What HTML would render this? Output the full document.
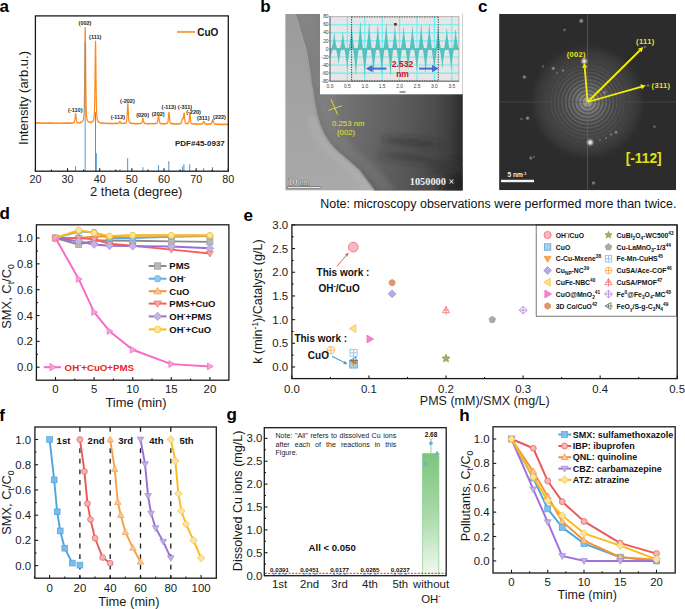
<!DOCTYPE html>
<html><head><meta charset="utf-8"><style>
html,body{margin:0;padding:0;background:#fff;width:685px;height:609px;overflow:hidden}
svg{display:block}
</style></head><body>
<svg width="685" height="609" viewBox="0 0 685 609">
<rect width="685" height="609" fill="#fff"/>
<text x="-0.60" y="12.40" font-size="17" font-weight="bold" fill="#000" font-family="Liberation Sans">a</text>
<text x="260.20" y="12.30" font-size="17" font-weight="bold" fill="#000" font-family="Liberation Sans">b</text>
<text x="478.00" y="12.40" font-size="17" font-weight="bold" fill="#000" font-family="Liberation Sans">c</text>
<text x="-0.50" y="219.30" font-size="17" font-weight="bold" fill="#000" font-family="Liberation Sans">d</text>
<text x="243.40" y="220.70" font-size="17" font-weight="bold" fill="#000" font-family="Liberation Sans">e</text>
<text x="-0.80" y="420.80" font-size="17" font-weight="bold" fill="#000" font-family="Liberation Sans">f</text>
<text x="226.40" y="420.20" font-size="17" font-weight="bold" fill="#000" font-family="Liberation Sans">g</text>
<text x="459.20" y="420.80" font-size="17" font-weight="bold" fill="#000" font-family="Liberation Sans">h</text>
<polyline points="35.40,122.80 35.59,123.02 35.79,122.90 35.98,123.07 36.17,123.08 36.36,122.69 36.56,122.66 36.75,123.23 36.94,122.83 37.14,122.81 37.33,123.35 37.52,122.98 37.71,123.24 37.91,122.99 38.10,123.10 38.29,122.76 38.49,123.10 38.68,123.27 38.87,123.03 39.07,123.18 39.26,123.13 39.45,122.71 39.64,123.20 39.84,123.08 40.03,122.88 40.22,122.69 40.42,123.28 40.61,123.00 40.80,123.18 40.99,123.29 41.19,123.18 41.38,123.32 41.57,122.96 41.77,123.24 41.96,122.99 42.15,123.34 42.34,123.30 42.54,122.75 42.73,122.78 42.92,122.84 43.12,123.37 43.31,123.00 43.50,123.13 43.69,122.90 43.89,123.05 44.08,122.97 44.27,122.94 44.47,123.11 44.66,123.11 44.85,123.33 45.04,123.18 45.24,123.35 45.43,123.30 45.62,123.40 45.82,123.18 46.01,122.82 46.20,123.31 46.40,123.39 46.59,123.35 46.78,123.11 46.97,123.21 47.17,122.86 47.36,123.30 47.55,123.12 47.75,122.92 47.94,122.77 48.13,123.32 48.32,123.42 48.52,122.79 48.71,123.29 48.90,123.01 49.10,122.83 49.29,122.94 49.48,123.27 49.67,123.34 49.87,122.76 50.06,123.16 50.25,122.77 50.45,123.24 50.64,122.97 50.83,123.36 51.02,123.43 51.22,123.09 51.41,123.44 51.60,122.96 51.80,122.80 51.99,123.17 52.18,122.77 52.38,122.89 52.57,123.03 52.76,123.18 52.95,122.86 53.15,122.78 53.34,123.36 53.53,122.97 53.73,123.43 53.92,123.38 54.11,123.02 54.30,123.08 54.50,123.12 54.69,123.21 54.88,123.18 55.08,123.15 55.27,123.20 55.46,123.42 55.65,123.12 55.85,123.07 56.04,123.27 56.23,122.94 56.43,122.98 56.62,123.46 56.81,123.14 57.00,123.16 57.20,122.78 57.39,123.07 57.58,123.18 57.78,122.79 57.97,123.21 58.16,123.22 58.36,122.82 58.55,123.22 58.74,123.11 58.93,123.26 59.13,123.03 59.32,123.28 59.51,123.30 59.71,122.80 59.90,122.83 60.09,123.26 60.28,123.46 60.48,122.96 60.67,123.11 60.86,123.20 61.06,123.01 61.25,123.05 61.44,123.01 61.63,123.05 61.83,123.21 62.02,123.00 62.21,123.06 62.41,123.34 62.60,122.81 62.79,123.19 62.98,123.31 63.18,123.01 63.37,122.95 63.56,123.36 63.76,122.96 63.95,122.93 64.14,123.10 64.33,123.29 64.53,122.87 64.72,123.02 64.91,123.03 65.11,123.38 65.30,123.10 65.49,123.40 65.69,122.92 65.88,123.03 66.07,123.25 66.26,123.42 66.46,123.11 66.65,122.95 66.84,122.88 67.04,123.16 67.23,122.93 67.42,123.36 67.61,123.38 67.81,122.92 68.00,122.98 68.19,123.35 68.39,123.23 68.58,123.35 68.77,123.02 68.96,122.87 69.16,122.98 69.35,123.33 69.54,122.96 69.74,123.01 69.93,123.06 70.12,123.05 70.31,123.04 70.51,123.39 70.70,122.85 70.89,122.74 71.09,123.39 71.28,123.34 71.47,123.40 71.67,123.00 71.86,123.35 72.05,123.32 72.24,122.81 72.44,123.16 72.63,123.20 72.82,123.05 73.02,122.91 73.21,122.71 73.40,122.69 73.59,122.54 73.79,122.34 73.98,122.58 74.17,122.18 74.37,122.21 74.56,121.10 74.75,120.72 74.94,119.05 75.14,117.17 75.33,114.95 75.52,113.50 75.72,113.59 75.91,115.02 76.10,117.75 76.29,119.22 76.49,120.63 76.68,121.70 76.87,122.07 77.07,122.26 77.26,122.78 77.45,122.65 77.65,122.52 77.84,122.51 78.03,122.97 78.22,122.72 78.42,122.95 78.61,122.65 78.80,122.55 79.00,122.78 79.19,122.97 79.38,122.51 79.57,122.92 79.77,122.99 79.96,122.89 80.15,122.87 80.35,122.26 80.54,122.65 80.73,122.76 80.92,122.14 81.12,122.23 81.31,122.15 81.50,122.24 81.70,122.06 81.89,121.96 82.08,122.03 82.27,121.31 82.47,121.13 82.66,120.91 82.85,120.58 83.05,120.12 83.24,120.22 83.43,119.44 83.62,117.93 83.82,116.76 84.01,114.19 84.20,109.71 84.40,101.49 84.59,87.75 84.78,67.41 84.98,43.74 85.17,27.29 85.36,31.08 85.55,51.30 85.75,74.77 85.94,93.15 86.13,104.77 86.33,111.33 86.52,115.03 86.71,117.19 86.90,118.60 87.10,119.59 87.29,119.94 87.48,120.71 87.68,120.96 87.87,121.13 88.06,121.33 88.25,121.61 88.45,121.91 88.64,121.84 88.83,122.14 89.03,122.06 89.22,121.98 89.41,122.24 89.60,122.40 89.80,122.00 89.99,122.27 90.18,122.29 90.38,122.61 90.57,122.65 90.76,122.25 90.96,122.60 91.15,122.49 91.34,122.08 91.53,122.17 91.73,121.87 91.92,122.28 92.11,122.07 92.31,122.11 92.50,121.90 92.69,121.63 92.88,121.45 93.08,121.05 93.27,120.37 93.46,120.25 93.66,119.24 93.85,118.51 94.04,117.71 94.23,115.14 94.43,111.51 94.62,105.01 94.81,94.79 95.01,78.65 95.20,59.66 95.39,44.33 95.58,41.01 95.78,54.14 95.97,72.91 96.16,90.12 96.36,102.60 96.55,110.14 96.74,114.76 96.94,116.72 97.13,118.70 97.32,119.48 97.51,120.30 97.71,120.39 97.90,121.24 98.09,121.69 98.29,121.34 98.48,121.74 98.67,122.08 98.86,122.42 99.06,122.13 99.25,122.20 99.44,122.34 99.64,122.68 99.83,122.84 100.02,122.66 100.21,122.69 100.41,122.76 100.60,122.77 100.79,122.86 100.99,122.66 101.18,122.99 101.37,123.35 101.56,122.98 101.76,123.24 101.95,122.86 102.14,123.25 102.34,123.31 102.53,123.27 102.72,123.18 102.92,123.17 103.11,123.30 103.30,123.49 103.49,122.98 103.69,122.95 103.88,123.42 104.07,123.55 104.27,123.28 104.46,123.24 104.65,123.44 104.84,123.08 105.04,123.14 105.23,123.10 105.42,123.38 105.62,123.20 105.81,123.15 106.00,123.47 106.19,123.66 106.39,123.21 106.58,123.50 106.77,123.30 106.97,123.62 107.16,123.43 107.35,123.22 107.54,123.19 107.74,123.05 107.93,123.38 108.12,123.32 108.32,123.17 108.51,123.31 108.70,123.28 108.89,123.60 109.09,123.17 109.28,123.76 109.47,123.41 109.67,123.50 109.86,123.41 110.05,123.67 110.25,123.66 110.44,123.48 110.63,123.43 110.82,123.60 111.02,123.70 111.21,123.38 111.40,123.62 111.60,123.78 111.79,123.43 111.98,123.27 112.17,123.28 112.37,123.62 112.56,123.59 112.75,123.79 112.95,123.72 113.14,123.29 113.33,123.25 113.52,123.30 113.72,123.26 113.91,123.62 114.10,123.73 114.30,123.76 114.49,123.31 114.68,123.73 114.87,123.35 115.07,123.43 115.26,123.64 115.45,123.19 115.65,123.19 115.84,123.71 116.03,123.33 116.23,123.37 116.42,123.53 116.61,123.59 116.80,123.12 117.00,123.35 117.19,123.41 117.38,123.44 117.58,123.24 117.77,123.49 117.96,123.73 118.15,123.31 118.35,123.38 118.54,123.03 118.73,123.05 118.93,123.17 119.12,122.56 119.31,122.79 119.50,122.42 119.70,121.48 119.89,121.84 120.08,121.49 120.28,122.07 120.47,122.44 120.66,122.48 120.85,123.03 121.05,123.21 121.24,123.44 121.43,123.13 121.63,123.52 121.82,123.69 122.01,123.51 122.21,123.42 122.40,123.13 122.59,123.40 122.78,123.30 122.98,123.55 123.17,123.52 123.36,123.43 123.56,123.15 123.75,123.46 123.94,123.43 124.13,123.10 124.33,123.57 124.52,123.37 124.71,122.96 124.91,123.49 125.10,122.88 125.29,122.94 125.48,123.13 125.68,122.94 125.87,122.77 126.06,122.64 126.26,122.23 126.45,121.68 126.64,120.81 126.83,119.40 127.03,117.66 127.22,114.45 127.41,110.16 127.61,106.14 127.80,103.59 127.99,104.73 128.18,108.60 128.38,113.24 128.57,116.24 128.76,119.10 128.96,120.51 129.15,121.81 129.34,122.06 129.54,122.37 129.73,122.64 129.92,122.89 130.11,123.18 130.31,122.98 130.50,123.40 130.69,122.95 130.89,123.11 131.08,123.04 131.27,123.09 131.46,123.58 131.66,123.57 131.85,123.22 132.04,123.24 132.24,123.42 132.43,123.67 132.62,123.73 132.81,123.70 133.01,123.60 133.20,123.30 133.39,123.48 133.59,123.35 133.78,123.59 133.97,123.63 134.16,123.38 134.36,123.42 134.55,123.79 134.74,123.27 134.94,123.82 135.13,123.88 135.32,123.93 135.52,123.54 135.71,123.66 135.90,123.68 136.09,123.72 136.29,123.96 136.48,123.76 136.67,123.49 136.87,123.89 137.06,123.62 137.25,123.71 137.44,123.80 137.64,123.29 137.83,123.83 138.02,123.75 138.22,123.63 138.41,123.65 138.60,123.60 138.79,123.41 138.99,123.64 139.18,123.29 139.37,123.61 139.57,123.70 139.76,123.55 139.95,123.62 140.14,123.88 140.34,123.81 140.53,123.26 140.72,123.69 140.92,123.53 141.11,123.07 141.30,123.20 141.50,122.97 141.69,122.63 141.88,122.57 142.07,122.26 142.27,121.02 142.46,120.38 142.65,119.21 142.85,118.09 143.04,118.60 143.23,119.15 143.42,120.43 143.62,121.31 143.81,122.14 144.00,122.45 144.20,123.16 144.39,123.48 144.58,123.57 144.77,123.37 144.97,123.66 145.16,123.51 145.35,123.28 145.55,123.26 145.74,123.31 145.93,123.42 146.12,123.41 146.32,123.66 146.51,123.81 146.70,123.71 146.90,123.63 147.09,123.80 147.28,123.57 147.47,123.69 147.67,123.90 147.86,123.65 148.05,123.50 148.25,124.01 148.44,123.89 148.63,123.64 148.83,123.65 149.02,123.76 149.21,123.81 149.40,123.56 149.60,123.40 149.79,123.55 149.98,123.95 150.18,123.51 150.37,123.73 150.56,123.55 150.75,123.56 150.95,123.53 151.14,123.69 151.33,123.53 151.53,123.43 151.72,123.49 151.91,123.53 152.10,123.75 152.30,123.45 152.49,123.43 152.68,123.72 152.88,123.69 153.07,123.90 153.26,123.44 153.45,123.68 153.65,123.67 153.84,123.41 154.03,124.06 154.23,123.53 154.42,123.44 154.61,123.69 154.81,123.47 155.00,123.77 155.19,123.57 155.38,123.39 155.58,123.32 155.77,123.77 155.96,123.42 156.16,123.74 156.35,123.46 156.54,123.72 156.73,123.19 156.93,123.01 157.12,122.80 157.31,122.82 157.51,122.09 157.70,120.99 157.89,119.57 158.08,118.46 158.28,117.16 158.47,115.98 158.66,115.77 158.86,116.98 159.05,118.57 159.24,120.08 159.43,121.12 159.63,121.93 159.82,122.86 160.01,123.34 160.21,123.04 160.40,123.71 160.59,123.44 160.79,123.73 160.98,123.86 161.17,123.91 161.36,123.31 161.56,123.53 161.75,123.76 161.94,124.01 162.14,123.43 162.33,123.58 162.52,123.98 162.71,123.47 162.91,123.67 163.10,123.64 163.29,123.88 163.49,124.06 163.68,123.53 163.87,123.93 164.06,123.93 164.26,123.99 164.45,123.79 164.64,124.05 164.84,123.65 165.03,123.68 165.22,123.54 165.41,123.91 165.61,123.68 165.80,123.51 165.99,123.42 166.19,123.78 166.38,123.66 166.57,123.69 166.76,123.40 166.96,123.39 167.15,123.06 167.34,123.30 167.54,122.59 167.73,122.52 167.92,122.06 168.12,120.88 168.31,118.74 168.50,116.51 168.69,114.34 168.89,112.30 169.08,112.47 169.27,114.37 169.47,116.66 169.66,119.31 169.85,120.93 170.04,121.78 170.24,122.48 170.43,122.65 170.62,123.11 170.82,123.65 171.01,123.16 171.20,123.57 171.39,123.31 171.59,123.34 171.78,123.77 171.97,123.52 172.17,123.42 172.36,123.51 172.55,123.88 172.74,123.85 172.94,123.46 173.13,123.63 173.32,124.16 173.52,123.64 173.71,123.89 173.90,123.80 174.10,124.06 174.29,123.94 174.48,124.08 174.67,123.90 174.87,123.66 175.06,123.66 175.25,123.59 175.45,124.12 175.64,123.62 175.83,123.56 176.02,124.22 176.22,123.68 176.41,124.17 176.60,123.60 176.80,123.87 176.99,123.70 177.18,124.12 177.37,123.97 177.57,123.98 177.76,124.06 177.95,124.13 178.15,123.76 178.34,123.93 178.53,123.81 178.72,123.57 178.92,124.06 179.11,123.88 179.30,124.02 179.50,123.57 179.69,123.78 179.88,123.70 180.08,123.85 180.27,123.36 180.46,123.49 180.65,123.52 180.85,123.13 181.04,123.31 181.23,123.20 181.43,122.60 181.62,122.19 181.81,121.36 182.00,120.09 182.20,119.14 182.39,118.81 182.58,118.17 182.78,118.61 182.97,118.81 183.16,118.96 183.35,118.27 183.55,117.37 183.74,115.20 183.93,113.44 184.13,112.98 184.32,114.05 184.51,116.62 184.70,118.66 184.90,120.39 185.09,121.98 185.28,122.70 185.48,123.17 185.67,123.10 185.86,123.46 186.05,123.31 186.25,123.79 186.44,123.79 186.63,123.39 186.83,123.86 187.02,123.35 187.21,123.29 187.41,123.72 187.60,123.39 187.79,123.50 187.98,123.52 188.18,123.01 188.37,123.34 188.56,122.74 188.76,122.38 188.95,121.49 189.14,120.45 189.33,118.58 189.53,116.01 189.72,113.90 189.91,113.41 190.11,114.70 190.30,116.65 190.49,118.89 190.68,121.02 190.88,122.13 191.07,123.03 191.26,123.44 191.46,123.61 191.65,123.41 191.84,123.37 192.03,123.55 192.23,123.72 192.42,123.81 192.61,123.86 192.81,123.77 193.00,124.14 193.19,123.77 193.39,123.91 193.58,124.23 193.77,124.19 193.96,123.84 194.16,123.82 194.35,124.22 194.54,123.68 194.74,123.77 194.93,124.06 195.12,124.07 195.31,123.81 195.51,123.74 195.70,123.85 195.89,124.25 196.09,124.04 196.28,124.41 196.47,124.28 196.66,124.42 196.86,123.76 197.05,123.87 197.24,123.75 197.44,124.04 197.63,123.98 197.82,123.78 198.01,124.13 198.21,123.81 198.40,123.97 198.59,123.92 198.79,124.31 198.98,124.04 199.17,123.93 199.37,123.78 199.56,124.05 199.75,124.18 199.94,124.21 200.14,124.37 200.33,124.30 200.52,123.90 200.72,123.81 200.91,124.24 201.10,124.25 201.29,124.03 201.49,124.24 201.68,124.01 201.87,123.78 202.07,123.63 202.26,123.42 202.45,123.69 202.64,123.63 202.84,123.29 203.03,122.54 203.22,122.16 203.42,121.85 203.61,121.45 203.80,121.30 203.99,121.49 204.19,122.06 204.38,122.34 204.57,122.79 204.77,123.49 204.96,123.95 205.15,123.81 205.34,123.82 205.54,123.85 205.73,123.97 205.92,124.24 206.12,124.02 206.31,124.39 206.50,123.85 206.70,123.97 206.89,124.12 207.08,124.05 207.27,124.37 207.47,124.36 207.66,124.43 207.85,124.21 208.05,123.81 208.24,124.19 208.43,124.17 208.62,124.12 208.82,123.97 209.01,124.27 209.20,124.41 209.40,123.83 209.59,124.22 209.78,124.00 209.97,124.08 210.17,124.32 210.36,124.34 210.55,124.08 210.75,123.72 210.94,124.15 211.13,123.52 211.32,123.48 211.52,123.50 211.71,122.73 211.90,122.13 212.10,121.89 212.29,121.11 212.48,119.98 212.68,119.70 212.87,119.80 213.06,120.30 213.25,121.16 213.45,122.42 213.64,122.41 213.83,122.99 214.03,123.29 214.22,123.43 214.41,123.88 214.60,124.12 214.80,124.25 214.99,124.15 215.18,124.32 215.38,123.77 215.57,123.99 215.76,124.48 215.95,123.88 216.15,124.03 216.34,124.19 216.53,124.05 216.73,124.26 216.92,123.91 217.11,124.05 217.30,124.57 217.50,124.00 217.69,124.54 217.88,124.04 218.08,124.61 218.27,124.40 218.46,124.38 218.66,124.03 218.85,123.97 219.04,124.47 219.23,124.07 219.43,124.08 219.62,124.52 219.81,124.56 220.01,123.99 220.20,124.63 220.39,124.33 220.58,124.23 220.78,124.04 220.97,124.24 221.16,124.66 221.36,124.17 221.55,124.07 221.74,124.08 221.93,124.07 222.13,124.23 222.32,124.62 222.51,124.04 222.71,124.12 222.90,124.65 223.09,124.69 223.28,124.68 223.48,124.17 223.67,124.24 223.86,124.66 224.06,124.34 224.25,124.49 224.44,124.22 224.63,124.02 224.83,124.25 225.02,124.53 225.21,124.56 225.41,124.41 225.60,124.34 225.79,124.39 225.99,124.33 226.18,124.39 226.37,124.60 226.56,124.16 226.76,124.44 226.95,124.68 227.14,124.62 227.34,124.15 227.53,124.71 227.72,124.62 227.91,124.15 228.11,124.22 228.30,124.18" fill="none" stroke="#ff8a1c" stroke-width="1.2" stroke-linejoin="round"/>
<line x1="75.59" y1="171.20" x2="75.59" y2="166.20" stroke="#4b98d2" stroke-width="1.0"/>
<line x1="85.23" y1="171.20" x2="85.23" y2="42.20" stroke="rgba(80,155,210,0.62)" stroke-width="1.6"/>
<line x1="95.52" y1="171.20" x2="95.52" y2="112.20" stroke="#4b98d2" stroke-width="1.0"/>
<line x1="96.32" y1="171.20" x2="96.32" y2="153.20" stroke="#4b98d2" stroke-width="1.0"/>
<line x1="119.95" y1="171.20" x2="119.95" y2="169.20" stroke="#4b98d2" stroke-width="1.0"/>
<line x1="127.67" y1="171.20" x2="127.67" y2="158.20" stroke="#4b98d2" stroke-width="1.0"/>
<line x1="142.94" y1="171.20" x2="142.94" y2="167.20" stroke="#4b98d2" stroke-width="1.0"/>
<line x1="158.53" y1="171.20" x2="158.53" y2="165.20" stroke="#4b98d2" stroke-width="1.0"/>
<line x1="168.82" y1="171.20" x2="168.82" y2="161.20" stroke="#4b98d2" stroke-width="1.0"/>
<line x1="182.65" y1="171.20" x2="182.65" y2="166.20" stroke="#4b98d2" stroke-width="1.0"/>
<line x1="183.93" y1="171.20" x2="183.93" y2="164.20" stroke="#4b98d2" stroke-width="1.0"/>
<line x1="189.72" y1="171.20" x2="189.72" y2="164.20" stroke="#4b98d2" stroke-width="1.0"/>
<line x1="203.71" y1="171.20" x2="203.71" y2="168.20" stroke="#4b98d2" stroke-width="1.0"/>
<line x1="212.55" y1="171.20" x2="212.55" y2="167.20" stroke="#4b98d2" stroke-width="1.0"/>
<rect x="35.40" y="15.90" width="192.90" height="155.30" fill="none" stroke="#1a1a1a" stroke-width="1.3"/>
<line x1="35.40" y1="171.20" x2="35.40" y2="168.20" stroke="#1a1a1a" stroke-width="1.1"/>
<line x1="67.55" y1="171.20" x2="67.55" y2="168.20" stroke="#1a1a1a" stroke-width="1.1"/>
<line x1="99.70" y1="171.20" x2="99.70" y2="168.20" stroke="#1a1a1a" stroke-width="1.1"/>
<line x1="131.85" y1="171.20" x2="131.85" y2="168.20" stroke="#1a1a1a" stroke-width="1.1"/>
<line x1="164.00" y1="171.20" x2="164.00" y2="168.20" stroke="#1a1a1a" stroke-width="1.1"/>
<line x1="196.15" y1="171.20" x2="196.15" y2="168.20" stroke="#1a1a1a" stroke-width="1.1"/>
<line x1="228.30" y1="171.20" x2="228.30" y2="168.20" stroke="#1a1a1a" stroke-width="1.1"/>
<line x1="51.47" y1="171.20" x2="51.47" y2="169.60" stroke="#1a1a1a" stroke-width="1.1"/>
<line x1="83.62" y1="171.20" x2="83.62" y2="169.60" stroke="#1a1a1a" stroke-width="1.1"/>
<line x1="115.78" y1="171.20" x2="115.78" y2="169.60" stroke="#1a1a1a" stroke-width="1.1"/>
<line x1="147.93" y1="171.20" x2="147.93" y2="169.60" stroke="#1a1a1a" stroke-width="1.1"/>
<line x1="180.08" y1="171.20" x2="180.08" y2="169.60" stroke="#1a1a1a" stroke-width="1.1"/>
<line x1="212.22" y1="171.20" x2="212.22" y2="169.60" stroke="#1a1a1a" stroke-width="1.1"/>
<text x="35.40" y="182.90" font-size="10.8" text-anchor="middle" fill="#1a1a1a" font-family="Liberation Sans">20</text>
<text x="67.55" y="182.90" font-size="10.8" text-anchor="middle" fill="#1a1a1a" font-family="Liberation Sans">30</text>
<text x="99.70" y="182.90" font-size="10.8" text-anchor="middle" fill="#1a1a1a" font-family="Liberation Sans">40</text>
<text x="131.85" y="182.90" font-size="10.8" text-anchor="middle" fill="#1a1a1a" font-family="Liberation Sans">50</text>
<text x="164.00" y="182.90" font-size="10.8" text-anchor="middle" fill="#1a1a1a" font-family="Liberation Sans">60</text>
<text x="196.15" y="182.90" font-size="10.8" text-anchor="middle" fill="#1a1a1a" font-family="Liberation Sans">70</text>
<text x="228.30" y="182.90" font-size="10.8" text-anchor="middle" fill="#1a1a1a" font-family="Liberation Sans">80</text>
<text x="136.20" y="196.20" font-size="13" text-anchor="middle" fill="#1a1a1a" font-family="Liberation Sans">2 theta (degree)</text>
<text transform="translate(28.00,98.00) rotate(-90)" x="0" y="0" font-size="13" text-anchor="middle" fill="#1a1a1a" font-family="Liberation Sans">Intensity (arb.u.)</text>
<line x1="177.00" y1="31.90" x2="195.00" y2="31.90" stroke="#f9a048" stroke-width="2.0"/>
<text x="197.20" y="35.60" font-size="10" font-weight="bold" fill="#111" font-family="Liberation Sans">CuO</text>
<text x="175.00" y="146.20" font-size="8" font-weight="bold" fill="#222" font-family="Liberation Sans">PDF#45-0937</text>
<text x="85.00" y="24.90" font-size="5.5" font-weight="bold" text-anchor="middle" fill="#222" font-family="Liberation Sans">(002)</text>
<text x="95.20" y="38.50" font-size="5.5" font-weight="bold" text-anchor="middle" fill="#222" font-family="Liberation Sans">(111)</text>
<text x="75.30" y="111.60" font-size="5.5" font-weight="bold" text-anchor="middle" fill="#222" font-family="Liberation Sans">(-110)</text>
<text x="117.90" y="119.30" font-size="5.5" font-weight="bold" text-anchor="middle" fill="#222" font-family="Liberation Sans">(-112)</text>
<text x="127.40" y="103.00" font-size="5.5" font-weight="bold" text-anchor="middle" fill="#222" font-family="Liberation Sans">(-202)</text>
<text x="142.60" y="117.20" font-size="5.5" font-weight="bold" text-anchor="middle" fill="#222" font-family="Liberation Sans">(020)</text>
<text x="158.20" y="115.60" font-size="5.5" font-weight="bold" text-anchor="middle" fill="#222" font-family="Liberation Sans">(202)</text>
<text x="168.80" y="109.30" font-size="5.5" font-weight="bold" text-anchor="middle" fill="#222" font-family="Liberation Sans">(-113)</text>
<text x="185.00" y="109.00" font-size="5.5" font-weight="bold" text-anchor="middle" fill="#222" font-family="Liberation Sans">(-311)</text>
<text x="193.50" y="114.10" font-size="5.5" font-weight="bold" text-anchor="middle" fill="#222" font-family="Liberation Sans">(-220)</text>
<text x="203.20" y="119.90" font-size="5.5" font-weight="bold" text-anchor="middle" fill="#222" font-family="Liberation Sans">(311)</text>
<text x="219.50" y="118.90" font-size="5.5" font-weight="bold" text-anchor="middle" fill="#222" font-family="Liberation Sans">(222)</text>
<defs>
<linearGradient id="tl" x1="0" y1="0" x2="0" y2="1"><stop offset="0" stop-color="#9b9b9b"/><stop offset="0.5" stop-color="#a3a3a3"/><stop offset="1" stop-color="#a9a9a9"/></linearGradient>
<linearGradient id="td" x1="0" y1="0" x2="1" y2="0"><stop offset="0" stop-color="#868686"/><stop offset="0.27" stop-color="#777777"/><stop offset="0.45" stop-color="#6b6b6b"/><stop offset="0.63" stop-color="#5f5f5f"/><stop offset="0.83" stop-color="#4f4f4f"/><stop offset="0.92" stop-color="#414141"/><stop offset="1" stop-color="#2c2c2c"/></linearGradient>
<linearGradient id="tdv" x1="0" y1="0" x2="0" y2="1"><stop offset="0" stop-color="#000" stop-opacity="0"/><stop offset="0.6" stop-color="#000" stop-opacity="0.03"/><stop offset="1" stop-color="#000" stop-opacity="0.08"/></linearGradient>
<filter id="bl3" x="-20%" y="-50%" width="140%" height="200%"><feGaussianBlur stdDeviation="2.5"/></filter>
<filter id="bl1"><feGaussianBlur stdDeviation="0.8"/></filter>
<filter id="bl4" x="-30%" y="-200%" width="160%" height="500%"><feGaussianBlur stdDeviation="3.5"/></filter>
<radialGradient id="fftc" cx="0.5" cy="0.5" r="0.5"><stop offset="0" stop-color="#b0b0b0"/><stop offset="0.07" stop-color="#888888"/><stop offset="0.22" stop-color="#606060"/><stop offset="0.42" stop-color="#4b4b4b"/><stop offset="0.7" stop-color="#414141"/><stop offset="0.86" stop-color="#363636"/><stop offset="1" stop-color="#2c2c2c" stop-opacity="0"/></radialGradient>
<radialGradient id="spot" cx="0.5" cy="0.5" r="0.5"><stop offset="0" stop-color="#fff"/><stop offset="0.4" stop-color="#ddd" stop-opacity="0.8"/><stop offset="1" stop-color="#888" stop-opacity="0"/></radialGradient>
<linearGradient id="gbar" x1="0" y1="0" x2="0" y2="1"><stop offset="0" stop-color="#7cc47c"/><stop offset="0.5" stop-color="#a9d9a9"/><stop offset="1" stop-color="#f2faf2"/></linearGradient>
<clipPath id="cb"><rect x="285.2" y="14" width="177.5" height="176.6"/></clipPath>
<clipPath id="cc"><rect x="499.1" y="14" width="176.9" height="176.2"/></clipPath>
</defs>
<g clip-path="url(#cb)">
<rect x="285.2" y="14.0" width="177.5" height="176.6" fill="url(#tl)"/>
<path d="M316.0,115.0 L319.5,126.0 L323.5,135.0 L329.0,143.5 L335.3,150.3 L347.0,160.4 L358.7,170.4 L368.8,183.8 L374.0,191.0 L365.0,195.0 L359.8,187.8 L349.7,174.4 L338.0,164.4 L326.3,154.3 L320.0,147.5 L314.5,139.0 L310.5,130.0 L307.0,119.0 Z" fill="#b8b8b8" opacity="0.35" filter="url(#bl3)"/>
<path d="M294,13 L300,33 L305.5,51 L308.5,70 L310.5,84 L311.8,90 L313.5,102 L316,115 L319.5,126 L323.5,135 L329,143.5 L335.3,150.3 L347,160.4 L358.7,170.4 L368.8,183.8 L374,191 L463,191 L463,13 Z" fill="url(#td)"/>
<path d="M294,13 L300,33 L305.5,51 L308.5,70 L310.5,84 L311.8,90 L313.5,102 L316,115 L319.5,126 L323.5,135 L329,143.5 L335.3,150.3 L347,160.4 L358.7,170.4 L368.8,183.8 L374,191 L463,191 L463,13 Z" fill="url(#tdv)"/>
<path d="M299.0,13.0 L305.0,33.0 L310.5,51.0 L313.5,70.0 L315.5,84.0 L316.8,90.0 L318.5,102.0 L321.0,115.0 L324.5,126.0 L328.5,135.0 L334.0,143.5 L340.3,150.3 L352.0,160.4 L363.7,170.4 L373.8,183.8 L379.0,191.0 L396.0,191.0 L390.8,183.8 L380.7,170.4 L369.0,160.4 L357.3,150.3 L351.0,143.5 L345.5,135.0 L341.5,126.0 L338.0,115.0 L335.5,102.0 L333.8,90.0 L332.5,84.0 L330.5,70.0 L327.5,51.0 L322.0,33.0 L316.0,13.0 Z" fill="#8c8c8c" opacity="0.3" filter="url(#bl3)"/>
<polyline points="294.8,13 300.8,33 306.3,51 309.3,70 311.3,84 312.6,90 314.3,102 316.8,115 320.3,126 324.3,135 329.8,143.5 336.1,150.3 347.8,160.4 359.5,170.4 369.6,183.8 374.8,191" fill="none" stroke="#bdbdbd" stroke-width="1.4" opacity="0.55"/>
<g filter="url(#bl4)">
<ellipse cx="411" cy="142.5" rx="30" ry="4.2" fill="#262626" opacity="0.45" transform="rotate(5 411 142.5)"/>
<ellipse cx="408" cy="157.5" rx="30" ry="4.0" fill="#262626" opacity="0.4" transform="rotate(6 408 157.5)"/>
<ellipse cx="446" cy="168" rx="18" ry="8" fill="#262626" opacity="0.35"/>
<ellipse cx="462" cy="190" rx="22" ry="16" fill="#141414" opacity="0.45"/>
</g>
</g>
<line x1="331.10" y1="99.30" x2="337.50" y2="114.40" stroke="#e2de2a" stroke-width="1.0"/>
<line x1="328.40" y1="110.30" x2="342.20" y2="105.70" stroke="#e2de2a" stroke-width="0.9"/>
<text x="332.00" y="125.80" font-size="7.8" fill="#e8e42e" font-family="Liberation Sans">0.253 nm</text>
<text x="337.00" y="134.90" font-size="7.8" fill="#e8e42e" font-family="Liberation Sans">(002)</text>
<text x="287.60" y="184.80" font-size="9.8" fill="#eeeeee" font-family="Liberation Serif" stroke="#333" stroke-width="0.5" paint-order="stroke">10 <tspan font-size="7.4">nm</tspan></text>
<rect x="287.3" y="186.8" width="33.4" height="1.8" fill="#f0f0f0" stroke="#444" stroke-width="0.5"/>
<text x="409.80" y="184.80" font-size="10.3" font-weight="bold" fill="#f0f0f0" font-family="Liberation Serif">1050000 ×</text>
<rect x="320.0" y="14.0" width="142.7" height="80.3" fill="#fff"/>
<rect x="330.0" y="16.6" width="129.0" height="64.6" fill="#e6e6e6"/>
<line x1="330.00" y1="73.12" x2="459.00" y2="73.12" stroke="#66eef2" stroke-width="1.1"/>
<line x1="330.00" y1="65.05" x2="459.00" y2="65.05" stroke="#66eef2" stroke-width="1.1"/>
<line x1="330.00" y1="56.97" x2="459.00" y2="56.97" stroke="#66eef2" stroke-width="1.1"/>
<line x1="330.00" y1="48.90" x2="459.00" y2="48.90" stroke="#66eef2" stroke-width="1.1"/>
<line x1="330.00" y1="40.83" x2="459.00" y2="40.83" stroke="#66eef2" stroke-width="1.1"/>
<line x1="330.00" y1="32.75" x2="459.00" y2="32.75" stroke="#66eef2" stroke-width="1.1"/>
<line x1="330.00" y1="24.68" x2="459.00" y2="24.68" stroke="#66eef2" stroke-width="1.1"/>
<line x1="347.40" y1="16.60" x2="347.40" y2="81.20" stroke="#66eef2" stroke-width="1.1"/>
<line x1="364.80" y1="16.60" x2="364.80" y2="81.20" stroke="#66eef2" stroke-width="1.1"/>
<line x1="382.20" y1="16.60" x2="382.20" y2="81.20" stroke="#66eef2" stroke-width="1.1"/>
<line x1="399.60" y1="16.60" x2="399.60" y2="81.20" stroke="#66eef2" stroke-width="1.1"/>
<line x1="417.00" y1="16.60" x2="417.00" y2="81.20" stroke="#66eef2" stroke-width="1.1"/>
<line x1="434.40" y1="16.60" x2="434.40" y2="81.20" stroke="#66eef2" stroke-width="1.1"/>
<line x1="451.80" y1="16.60" x2="451.80" y2="81.20" stroke="#66eef2" stroke-width="1.1"/>
<polygon points="331.50,48.90 331.89,47.37 332.25,45.83 332.59,44.30 332.90,42.76 333.18,41.23 333.42,39.69 333.64,38.16 333.81,36.63 333.94,35.09 334.00,33.56 334.60,33.56 334.66,35.09 334.79,36.63 334.96,38.16 335.18,39.69 335.42,41.23 335.70,42.76 336.01,44.30 336.35,45.83 336.71,47.37 337.10,48.90" fill="#55c2c2" stroke="none" stroke-width="0.8"/>
<polygon points="340.00,48.90 340.39,47.24 340.75,45.59 341.09,43.93 341.40,42.28 341.68,40.62 341.92,38.97 342.14,37.31 342.31,35.66 342.44,34.00 342.50,32.35 343.10,32.35 343.16,34.00 343.29,35.66 343.46,37.31 343.68,38.97 343.92,40.62 344.20,42.28 344.51,43.93 344.85,45.59 345.21,47.24 345.60,48.90" fill="#55c2c2" stroke="none" stroke-width="0.8"/>
<polygon points="348.80,48.90 349.19,46.68 349.55,44.46 349.89,42.24 350.20,40.02 350.48,37.80 350.72,35.58 350.94,33.36 351.11,31.14 351.24,28.91 351.30,26.69 351.90,26.69 351.96,28.91 352.09,31.14 352.26,33.36 352.48,35.58 352.72,37.80 353.00,40.02 353.31,42.24 353.65,44.46 354.01,46.68 354.40,48.90" fill="#55c2c2" stroke="none" stroke-width="0.8"/>
<polygon points="357.50,48.90 357.89,46.28 358.25,43.65 358.59,41.03 358.90,38.40 359.18,35.78 359.42,33.15 359.64,30.53 359.81,27.90 359.94,25.28 360.00,22.66 360.60,22.66 360.66,25.28 360.79,27.90 360.96,30.53 361.18,33.15 361.42,35.78 361.70,38.40 362.01,41.03 362.35,43.65 362.71,46.28 363.10,48.90" fill="#55c2c2" stroke="none" stroke-width="0.8"/>
<polygon points="366.30,48.90 366.69,46.40 367.05,43.89 367.39,41.39 367.70,38.89 367.98,36.38 368.22,33.88 368.44,31.38 368.61,28.87 368.74,26.37 368.80,23.87 369.40,23.87 369.46,26.37 369.59,28.87 369.76,31.38 369.98,33.88 370.22,36.38 370.50,38.89 370.81,41.39 371.15,43.89 371.51,46.40 371.90,48.90" fill="#55c2c2" stroke="none" stroke-width="0.8"/>
<polygon points="375.00,48.90 375.39,46.60 375.75,44.30 376.09,42.00 376.40,39.69 376.68,37.39 376.92,35.09 377.14,32.79 377.31,30.49 377.44,28.19 377.50,25.89 378.10,25.89 378.16,28.19 378.29,30.49 378.46,32.79 378.68,35.09 378.92,37.39 379.20,39.69 379.51,42.00 379.85,44.30 380.21,46.60 380.60,48.90" fill="#55c2c2" stroke="none" stroke-width="0.8"/>
<polygon points="383.40,48.90 383.79,46.48 384.15,44.05 384.49,41.63 384.80,39.21 385.08,36.79 385.32,34.37 385.54,31.94 385.71,29.52 385.84,27.10 385.90,24.68 386.50,24.68 386.56,27.10 386.69,29.52 386.86,31.94 387.08,34.37 387.32,36.79 387.60,39.21 387.91,41.63 388.25,44.05 388.61,46.48 389.00,48.90" fill="#55c2c2" stroke="none" stroke-width="0.8"/>
<polygon points="392.10,48.90 392.49,46.68 392.85,44.46 393.19,42.24 393.50,40.02 393.78,37.80 394.02,35.58 394.24,33.36 394.41,31.14 394.54,28.91 394.60,26.69 395.20,26.69 395.26,28.91 395.39,31.14 395.56,33.36 395.78,35.58 396.02,37.80 396.30,40.02 396.61,42.24 396.95,44.46 397.31,46.68 397.70,48.90" fill="#55c2c2" stroke="none" stroke-width="0.8"/>
<polygon points="400.90,48.90 401.29,46.76 401.65,44.62 401.99,42.48 402.30,40.34 402.58,38.20 402.82,36.06 403.04,33.92 403.21,31.78 403.34,29.64 403.40,27.50 404.00,27.50 404.06,29.64 404.19,31.78 404.36,33.92 404.58,36.06 404.82,38.20 405.10,40.34 405.41,42.48 405.75,44.62 406.11,46.76 406.50,48.90" fill="#55c2c2" stroke="none" stroke-width="0.8"/>
<polygon points="409.60,48.90 409.99,46.68 410.35,44.46 410.69,42.24 411.00,40.02 411.28,37.80 411.52,35.58 411.74,33.36 411.91,31.14 412.04,28.91 412.10,26.69 412.70,26.69 412.76,28.91 412.89,31.14 413.06,33.36 413.28,35.58 413.52,37.80 413.80,40.02 414.11,42.24 414.45,44.46 414.81,46.68 415.20,48.90" fill="#55c2c2" stroke="none" stroke-width="0.8"/>
<polygon points="418.40,48.90 418.79,46.56 419.15,44.22 419.49,41.87 419.80,39.53 420.08,37.19 420.32,34.85 420.54,32.51 420.71,30.17 420.84,27.82 420.90,25.48 421.50,25.48 421.56,27.82 421.69,30.17 421.86,32.51 422.08,34.85 422.32,37.19 422.60,39.53 422.91,41.87 423.25,44.22 423.61,46.56 424.00,48.90" fill="#55c2c2" stroke="none" stroke-width="0.8"/>
<polygon points="426.50,48.90 426.89,46.48 427.25,44.05 427.59,41.63 427.90,39.21 428.18,36.79 428.42,34.37 428.64,31.94 428.81,29.52 428.94,27.10 429.00,24.68 429.60,24.68 429.66,27.10 429.79,29.52 429.96,31.94 430.18,34.37 430.42,36.79 430.70,39.21 431.01,41.63 431.35,44.05 431.71,46.48 432.10,48.90" fill="#55c2c2" stroke="none" stroke-width="0.8"/>
<polygon points="435.30,48.90 435.69,46.68 436.05,44.46 436.39,42.24 436.70,40.02 436.98,37.80 437.22,35.58 437.44,33.36 437.61,31.14 437.74,28.91 437.80,26.69 438.40,26.69 438.46,28.91 438.59,31.14 438.76,33.36 438.98,35.58 439.22,37.80 439.50,40.02 439.81,42.24 440.15,44.46 440.51,46.68 440.90,48.90" fill="#55c2c2" stroke="none" stroke-width="0.8"/>
<polygon points="444.00,48.90 444.39,46.92 444.75,44.94 445.09,42.96 445.40,40.99 445.68,39.01 445.92,37.03 446.14,35.05 446.31,33.07 446.44,31.09 446.50,29.12 447.10,29.12 447.16,31.09 447.29,33.07 447.46,35.05 447.68,37.03 447.92,39.01 448.20,40.99 448.51,42.96 448.85,44.94 449.21,46.92 449.60,48.90" fill="#55c2c2" stroke="none" stroke-width="0.8"/>
<polygon points="452.80,48.90 453.19,47.00 453.55,45.10 453.89,43.21 454.20,41.31 454.48,39.41 454.72,37.51 454.94,35.62 455.11,33.72 455.24,31.82 455.30,29.92 455.90,29.92 455.96,31.82 456.09,33.72 456.26,35.62 456.48,37.51 456.72,39.41 457.00,41.31 457.31,43.21 457.65,45.10 458.01,47.00 458.40,48.90" fill="#55c2c2" stroke="none" stroke-width="0.8"/>
<polygon points="330.00,48.90 330.00,49.71 330.00,50.52 330.00,51.32 330.00,52.13 330.00,52.94 330.00,53.74 330.00,54.55 330.00,55.36 330.04,56.17 330.10,56.97 330.70,56.97 330.76,56.17 330.89,55.36 331.06,54.55 331.28,53.74 331.52,52.94 331.80,52.13 332.11,51.32 332.45,50.52 332.81,49.71 333.20,48.90" fill="#55c2c2" stroke="none" stroke-width="0.8"/>
<polygon points="335.80,48.90 336.19,50.35 336.55,51.81 336.89,53.26 337.20,54.71 337.48,56.17 337.72,57.62 337.94,59.07 338.11,60.53 338.24,61.98 338.30,63.43 338.90,63.43 338.96,61.98 339.09,60.53 339.26,59.07 339.48,57.62 339.72,56.17 340.00,54.71 340.31,53.26 340.65,51.81 341.01,50.35 341.40,48.90" fill="#55c2c2" stroke="none" stroke-width="0.8"/>
<polygon points="344.40,48.90 344.79,50.88 345.15,52.86 345.49,54.84 345.80,56.81 346.08,58.79 346.32,60.77 346.54,62.75 346.71,64.73 346.84,66.71 346.90,68.68 347.50,68.68 347.56,66.71 347.69,64.73 347.86,62.75 348.08,60.77 348.32,58.79 348.60,56.81 348.91,54.84 349.25,52.86 349.61,50.88 350.00,48.90" fill="#55c2c2" stroke="none" stroke-width="0.8"/>
<polygon points="353.10,48.90 353.49,51.44 353.85,53.99 354.19,56.53 354.50,59.07 354.78,61.62 355.02,64.16 355.24,66.71 355.41,69.25 355.54,71.79 355.60,74.34 356.20,74.34 356.26,71.79 356.39,69.25 356.56,66.71 356.78,64.16 357.02,61.62 357.30,59.07 357.61,56.53 357.95,53.99 358.31,51.44 358.70,48.90" fill="#55c2c2" stroke="none" stroke-width="0.8"/>
<polygon points="361.90,48.90 362.29,51.65 362.65,54.39 362.99,57.14 363.30,59.88 363.58,62.63 363.82,65.37 364.04,68.12 364.21,70.86 364.34,73.61 364.40,76.35 365.00,76.35 365.06,73.61 365.19,70.86 365.36,68.12 365.58,65.37 365.82,62.63 366.10,59.88 366.41,57.14 366.75,54.39 367.11,51.65 367.50,48.90" fill="#55c2c2" stroke="none" stroke-width="0.8"/>
<polygon points="370.70,48.90 371.09,51.32 371.45,53.74 371.79,56.17 372.10,58.59 372.38,61.01 372.62,63.44 372.84,65.86 373.01,68.28 373.14,70.70 373.20,73.12 373.80,73.12 373.86,70.70 373.99,68.28 374.16,65.86 374.38,63.44 374.62,61.01 374.90,58.59 375.21,56.17 375.55,53.74 375.91,51.32 376.30,48.90" fill="#55c2c2" stroke="none" stroke-width="0.8"/>
<polygon points="379.00,48.90 379.39,51.28 379.75,53.66 380.09,56.05 380.40,58.43 380.68,60.81 380.92,63.19 381.14,65.57 381.31,67.96 381.44,70.34 381.50,72.72 382.10,72.72 382.16,70.34 382.29,67.96 382.46,65.57 382.68,63.19 382.92,60.81 383.20,58.43 383.51,56.05 383.85,53.66 384.21,51.28 384.60,48.90" fill="#55c2c2" stroke="none" stroke-width="0.8"/>
<polygon points="387.70,48.90 388.09,51.48 388.45,54.07 388.79,56.65 389.10,59.24 389.38,61.82 389.62,64.40 389.84,66.99 390.01,69.57 390.14,72.16 390.20,74.74 390.80,74.74 390.86,72.16 390.99,69.57 391.16,66.99 391.38,64.40 391.62,61.82 391.90,59.24 392.21,56.65 392.55,54.07 392.91,51.48 393.30,48.90" fill="#55c2c2" stroke="none" stroke-width="0.8"/>
<polygon points="396.50,48.90 396.89,51.28 397.25,53.66 397.59,56.05 397.90,58.43 398.18,60.81 398.42,63.19 398.64,65.57 398.81,67.96 398.94,70.34 399.00,72.72 399.60,72.72 399.66,70.34 399.79,67.96 399.96,65.57 400.18,63.19 400.42,60.81 400.70,58.43 401.01,56.05 401.35,53.66 401.71,51.28 402.10,48.90" fill="#55c2c2" stroke="none" stroke-width="0.8"/>
<polygon points="405.30,48.90 405.69,50.88 406.05,52.86 406.39,54.84 406.70,56.81 406.98,58.79 407.22,60.77 407.44,62.75 407.61,64.73 407.74,66.71 407.80,68.68 408.40,68.68 408.46,66.71 408.59,64.73 408.76,62.75 408.98,60.77 409.22,58.79 409.50,56.81 409.81,54.84 410.15,52.86 410.51,50.88 410.90,48.90" fill="#55c2c2" stroke="none" stroke-width="0.8"/>
<polygon points="414.00,48.90 414.39,51.00 414.75,53.10 415.09,55.20 415.40,57.30 415.68,59.40 415.92,61.50 416.14,63.60 416.31,65.70 416.44,67.80 416.50,69.89 417.10,69.89 417.16,67.80 417.29,65.70 417.46,63.60 417.68,61.50 417.92,59.40 418.20,57.30 418.51,55.20 418.85,53.10 419.21,51.00 419.60,48.90" fill="#55c2c2" stroke="none" stroke-width="0.8"/>
<polygon points="422.80,48.90 423.19,51.20 423.55,53.50 423.89,55.80 424.20,58.11 424.48,60.41 424.72,62.71 424.94,65.01 425.11,67.31 425.24,69.61 425.30,71.91 425.90,71.91 425.96,69.61 426.09,67.31 426.26,65.01 426.48,62.71 426.72,60.41 427.00,58.11 427.31,55.80 427.65,53.50 428.01,51.20 428.40,48.90" fill="#55c2c2" stroke="none" stroke-width="0.8"/>
<polygon points="431.50,48.90 431.89,51.12 432.25,53.34 432.59,55.56 432.90,57.78 433.18,60.00 433.42,62.22 433.64,64.44 433.81,66.67 433.94,68.89 434.00,71.11 434.60,71.11 434.66,68.89 434.79,66.67 434.96,64.44 435.18,62.22 435.42,60.00 435.70,57.78 436.01,55.56 436.35,53.34 436.71,51.12 437.10,48.90" fill="#55c2c2" stroke="none" stroke-width="0.8"/>
<polygon points="439.60,48.90 439.99,50.76 440.35,52.61 440.69,54.47 441.00,56.33 441.28,58.19 441.52,60.04 441.74,61.90 441.91,63.76 442.04,65.62 442.10,67.47 442.70,67.47 442.76,65.62 442.89,63.76 443.06,61.90 443.28,60.04 443.52,58.19 443.80,56.33 444.11,54.47 444.45,52.61 444.81,50.76 445.20,48.90" fill="#55c2c2" stroke="none" stroke-width="0.8"/>
<polygon points="448.40,48.90 448.79,50.88 449.15,52.86 449.49,54.84 449.80,56.81 450.08,58.79 450.32,60.77 450.54,62.75 450.71,64.73 450.84,66.71 450.90,68.68 451.50,68.68 451.56,66.71 451.69,64.73 451.86,62.75 452.08,60.77 452.32,58.79 452.60,56.81 452.91,54.84 453.25,52.86 453.61,50.88 454.00,48.90" fill="#55c2c2" stroke="none" stroke-width="0.8"/>
<rect x="330.0" y="48.00" width="129.0" height="1.9" fill="#55c2c2"/>
<line x1="351.60" y1="16.60" x2="351.60" y2="81.20" stroke="#222" stroke-width="0.9" stroke-dasharray="1.2,1.3"/>
<line x1="438.30" y1="16.60" x2="438.30" y2="81.20" stroke="#222" stroke-width="0.9" stroke-dasharray="1.2,1.3"/>
<line x1="351.60" y1="16.90" x2="438.30" y2="16.90" stroke="#222" stroke-width="0.9" stroke-dasharray="1.2,1.3"/>
<line x1="351.60" y1="80.90" x2="438.30" y2="80.90" stroke="#222" stroke-width="0.9" stroke-dasharray="1.2,1.3"/>
<polyline points="330.0,16.6 330.0,81.2 459.0,81.2 459.0,16.6 330.0,16.6" fill="none" stroke="#8a8a8a" stroke-width="0.6"/>
<line x1="330.00" y1="16.60" x2="330.00" y2="81.20" stroke="#555" stroke-width="0.8"/>
<line x1="330.00" y1="81.20" x2="459.00" y2="81.20" stroke="#555" stroke-width="0.8"/>
<text x="328.60" y="82.90" font-size="4.9" text-anchor="end" fill="#3a3a3a" font-family="Liberation Sans">-80</text>
<line x1="328.80" y1="81.20" x2="330.00" y2="81.20" stroke="#666" stroke-width="0.5"/>
<text x="328.60" y="74.83" font-size="4.9" text-anchor="end" fill="#3a3a3a" font-family="Liberation Sans">-60</text>
<line x1="328.80" y1="73.12" x2="330.00" y2="73.12" stroke="#666" stroke-width="0.5"/>
<text x="328.60" y="66.75" font-size="4.9" text-anchor="end" fill="#3a3a3a" font-family="Liberation Sans">-40</text>
<line x1="328.80" y1="65.05" x2="330.00" y2="65.05" stroke="#666" stroke-width="0.5"/>
<text x="328.60" y="58.67" font-size="4.9" text-anchor="end" fill="#3a3a3a" font-family="Liberation Sans">-20</text>
<line x1="328.80" y1="56.97" x2="330.00" y2="56.97" stroke="#666" stroke-width="0.5"/>
<text x="328.60" y="50.60" font-size="4.9" text-anchor="end" fill="#3a3a3a" font-family="Liberation Sans">0</text>
<line x1="328.80" y1="48.90" x2="330.00" y2="48.90" stroke="#666" stroke-width="0.5"/>
<text x="328.60" y="42.53" font-size="4.9" text-anchor="end" fill="#3a3a3a" font-family="Liberation Sans">20</text>
<line x1="328.80" y1="40.83" x2="330.00" y2="40.83" stroke="#666" stroke-width="0.5"/>
<text x="328.60" y="34.45" font-size="4.9" text-anchor="end" fill="#3a3a3a" font-family="Liberation Sans">40</text>
<line x1="328.80" y1="32.75" x2="330.00" y2="32.75" stroke="#666" stroke-width="0.5"/>
<text x="328.60" y="26.38" font-size="4.9" text-anchor="end" fill="#3a3a3a" font-family="Liberation Sans">60</text>
<line x1="328.80" y1="24.68" x2="330.00" y2="24.68" stroke="#666" stroke-width="0.5"/>
<text x="328.60" y="18.30" font-size="4.9" text-anchor="end" fill="#3a3a3a" font-family="Liberation Sans">80</text>
<line x1="328.80" y1="16.60" x2="330.00" y2="16.60" stroke="#666" stroke-width="0.5"/>
<text x="330.00" y="88.40" font-size="4.9" text-anchor="middle" fill="#3a3a3a" font-family="Liberation Sans">0.0</text>
<text x="347.40" y="88.40" font-size="4.9" text-anchor="middle" fill="#3a3a3a" font-family="Liberation Sans">0.5</text>
<text x="364.80" y="88.40" font-size="4.9" text-anchor="middle" fill="#3a3a3a" font-family="Liberation Sans">1.0</text>
<text x="382.20" y="88.40" font-size="4.9" text-anchor="middle" fill="#3a3a3a" font-family="Liberation Sans">1.5</text>
<text x="399.60" y="88.40" font-size="4.9" text-anchor="middle" fill="#3a3a3a" font-family="Liberation Sans">2.0</text>
<text x="417.00" y="88.40" font-size="4.9" text-anchor="middle" fill="#3a3a3a" font-family="Liberation Sans">2.5</text>
<text x="434.40" y="88.40" font-size="4.9" text-anchor="middle" fill="#3a3a3a" font-family="Liberation Sans">3.0</text>
<text x="451.80" y="88.40" font-size="4.9" text-anchor="middle" fill="#3a3a3a" font-family="Liberation Sans">3.5</text>
<text x="402.50" y="92.80" font-size="4.0" font-weight="bold" text-anchor="middle" fill="#444" font-family="Liberation Sans">nm</text>
<rect x="394.1" y="23" width="2.6" height="2.6" fill="#9e1010"/>
<line x1="372.00" y1="68.60" x2="386.40" y2="68.60" stroke="#3f6fd0" stroke-width="2.0"/>
<polygon points="365.80,68.60 372.50,65.00 372.50,72.20" fill="#3f6fd0" stroke="none" stroke-width="0.8"/>
<line x1="419.00" y1="68.60" x2="432.50" y2="68.60" stroke="#3f6fd0" stroke-width="2.0"/>
<polygon points="438.70,68.60 432.00,65.00 432.00,72.20" fill="#3f6fd0" stroke="none" stroke-width="0.8"/>
<text x="402.50" y="66.80" font-size="8.5" font-weight="bold" text-anchor="middle" fill="#c81414" font-family="Liberation Sans">2.532</text>
<text x="402.50" y="77.20" font-size="8.5" font-weight="bold" text-anchor="middle" fill="#c81414" font-family="Liberation Sans">nm</text>
<g clip-path="url(#cc)">
<rect x="499.1" y="14.0" width="176.89999999999998" height="176.2" fill="#2c2c2c"/>
<circle cx="587.6" cy="102.0" r="60" fill="url(#fftc)"/>
<circle cx="587.6" cy="102.0" r="4.2" fill="none" stroke="#a0a0a0" stroke-width="1.5" opacity="0.378"/>
<circle cx="587.6" cy="102.0" r="6.0" fill="none" stroke="#1e1e1e" stroke-width="1.3" opacity="0.286"/>
<circle cx="587.6" cy="102.0" r="7.8" fill="none" stroke="#a0a0a0" stroke-width="1.5" opacity="0.342"/>
<circle cx="587.6" cy="102.0" r="9.6" fill="none" stroke="#1e1e1e" stroke-width="1.3" opacity="0.258"/>
<circle cx="587.6" cy="102.0" r="11.4" fill="none" stroke="#a0a0a0" stroke-width="1.5" opacity="0.306"/>
<circle cx="587.6" cy="102.0" r="13.200000000000001" fill="none" stroke="#1e1e1e" stroke-width="1.3" opacity="0.229"/>
<circle cx="587.6" cy="102.0" r="15.0" fill="none" stroke="#a0a0a0" stroke-width="1.5" opacity="0.270"/>
<circle cx="587.6" cy="102.0" r="16.8" fill="none" stroke="#1e1e1e" stroke-width="1.3" opacity="0.200"/>
<circle cx="587.6" cy="102.0" r="18.6" fill="none" stroke="#a0a0a0" stroke-width="1.5" opacity="0.234"/>
<circle cx="587.6" cy="102.0" r="20.400000000000002" fill="none" stroke="#1e1e1e" stroke-width="1.3" opacity="0.171"/>
<circle cx="587.6" cy="102.0" r="22.2" fill="none" stroke="#a0a0a0" stroke-width="1.5" opacity="0.198"/>
<circle cx="587.6" cy="102.0" r="24.0" fill="none" stroke="#1e1e1e" stroke-width="1.3" opacity="0.142"/>
<circle cx="587.6" cy="102.0" r="25.8" fill="none" stroke="#a0a0a0" stroke-width="1.5" opacity="0.162"/>
<circle cx="587.6" cy="102.0" r="27.6" fill="none" stroke="#1e1e1e" stroke-width="1.3" opacity="0.114"/>
<circle cx="587.6" cy="102.0" r="29.4" fill="none" stroke="#a0a0a0" stroke-width="1.5" opacity="0.126"/>
<circle cx="587.6" cy="102.0" r="31.2" fill="none" stroke="#1e1e1e" stroke-width="1.3" opacity="0.085"/>
<circle cx="587.6" cy="102.0" r="33.0" fill="none" stroke="#a0a0a0" stroke-width="1.5" opacity="0.090"/>
<circle cx="587.6" cy="102.0" r="34.8" fill="none" stroke="#1e1e1e" stroke-width="1.3" opacity="0.056"/>
<circle cx="587.6" cy="102.0" r="36.6" fill="none" stroke="#a0a0a0" stroke-width="1.5" opacity="0.070"/>
<circle cx="587.6" cy="102.0" r="38.4" fill="none" stroke="#1e1e1e" stroke-width="1.3" opacity="0.050"/>
<line x1="587.60" y1="14.00" x2="587.60" y2="190.20" stroke="#6a6a6a" stroke-width="0.6"/>
<line x1="499.10" y1="102.00" x2="676.00" y2="102.00" stroke="#505050" stroke-width="0.6"/>
<circle cx="584.2" cy="61.2" r="4.16" fill="url(#spot)" opacity="1.0"/>
<circle cx="590.2" cy="142.4" r="4.48" fill="url(#spot)" opacity="1.0"/>
<circle cx="581.2" cy="20.9" r="2.88" fill="url(#spot)" opacity="0.6"/>
<circle cx="564.5" cy="29.9" r="2.08" fill="url(#spot)" opacity="0.35"/>
<circle cx="553.3" cy="68.4" r="2.40" fill="url(#spot)" opacity="0.5"/>
<circle cx="524.4" cy="77.1" r="2.56" fill="url(#spot)" opacity="0.5"/>
<circle cx="527.6" cy="118.2" r="2.56" fill="url(#spot)" opacity="0.55"/>
<circle cx="530.8" cy="158" r="2.40" fill="url(#spot)" opacity="0.45"/>
<circle cx="593.5" cy="183" r="2.40" fill="url(#spot)" opacity="0.5"/>
<circle cx="654.5" cy="126.8" r="2.08" fill="url(#spot)" opacity="0.35"/>
<circle cx="616" cy="132.3" r="2.24" fill="url(#spot)" opacity="0.45"/>
<circle cx="604.7" cy="92.5" r="2.08" fill="url(#spot)" opacity="0.4"/>
<circle cx="543" cy="66.4" r="1.76" fill="url(#spot)" opacity="0.35"/>
<circle cx="563" cy="70.5" r="1.92" fill="url(#spot)" opacity="0.4"/>
<circle cx="557" cy="73" r="1.60" fill="url(#spot)" opacity="0.3"/>
<circle cx="521.5" cy="119" r="1.76" fill="url(#spot)" opacity="0.35"/>
<circle cx="606" cy="138" r="1.60" fill="url(#spot)" opacity="0.35"/>
<circle cx="611" cy="134.5" r="1.76" fill="url(#spot)" opacity="0.4"/>
<circle cx="645" cy="47" r="1.92" fill="url(#spot)" opacity="0.35"/>
<circle cx="648" cy="85.5" r="2.08" fill="url(#spot)" opacity="0.4"/>
<circle cx="534" cy="157" r="1.60" fill="url(#spot)" opacity="0.3"/>
<circle cx="600" cy="140" r="1.60" fill="url(#spot)" opacity="0.3"/>
</g>
<line x1="587.60" y1="102.00" x2="584.72" y2="67.78" stroke="#f4f000" stroke-width="1.8"/>
<polygon points="584.30,62.80 587.31,67.56 582.13,68.00" fill="#f4f000" stroke="none" stroke-width="0.8"/>
<line x1="587.60" y1="102.00" x2="639.74" y2="50.51" stroke="#f4f000" stroke-width="1.8"/>
<polygon points="643.30,47.00 641.57,52.36 637.92,48.66" fill="#f4f000" stroke="none" stroke-width="0.8"/>
<line x1="587.60" y1="102.00" x2="640.99" y2="86.86" stroke="#f4f000" stroke-width="1.8"/>
<polygon points="645.80,85.50 641.70,89.37 640.28,84.36" fill="#f4f000" stroke="none" stroke-width="0.8"/>
<text x="576.30" y="56.80" font-size="7.6" font-weight="bold" text-anchor="middle" fill="#e6e41c" font-family="Liberation Sans" letter-spacing="0.3">(002)</text>
<text x="645.30" y="43.70" font-size="7.6" font-weight="bold" text-anchor="middle" fill="#e6e41c" font-family="Liberation Sans" letter-spacing="0.3">(111)</text>
<text x="661.00" y="87.50" font-size="7.6" font-weight="bold" text-anchor="middle" fill="#e6e41c" font-family="Liberation Sans" letter-spacing="0.3">(311)</text>
<text x="643.70" y="163.20" font-size="13.8" font-weight="bold" text-anchor="middle" fill="#e2e012" font-family="Liberation Sans">[-112]</text>
<rect x="501" y="179.8" width="33" height="2.4" fill="#f4f4f4"/>
<text x="517.00" y="177.40" font-size="6.6" font-weight="bold" text-anchor="middle" fill="#f0f0f0" font-family="Liberation Sans">5 nm<tspan font-size="4.2" dy="-2.6">-1</tspan></text>
<text x="320.20" y="208.00" font-size="12.48" fill="#111" font-family="Liberation Sans">Note: microscopy observations were performed more than twice.</text>
<polyline points="55.50,238.00 78.66,244.46 94.10,240.58 109.54,240.58 132.70,240.84 171.30,241.36 209.90,241.88" fill="none" stroke="#8a8a8a" stroke-width="1.95" stroke-linejoin="round"/>
<rect x="52.50" y="235.00" width="6.00" height="6.00" fill="#b9b9b9" stroke="#9a9a9a" stroke-width="0.7"/>
<rect x="75.66" y="241.46" width="6.00" height="6.00" fill="#b9b9b9" stroke="#9a9a9a" stroke-width="0.7"/>
<rect x="91.10" y="237.58" width="6.00" height="6.00" fill="#b9b9b9" stroke="#9a9a9a" stroke-width="0.7"/>
<rect x="106.54" y="237.58" width="6.00" height="6.00" fill="#b9b9b9" stroke="#9a9a9a" stroke-width="0.7"/>
<rect x="129.70" y="237.84" width="6.00" height="6.00" fill="#b9b9b9" stroke="#9a9a9a" stroke-width="0.7"/>
<rect x="168.30" y="238.36" width="6.00" height="6.00" fill="#b9b9b9" stroke="#9a9a9a" stroke-width="0.7"/>
<rect x="206.90" y="238.88" width="6.00" height="6.00" fill="#b9b9b9" stroke="#9a9a9a" stroke-width="0.7"/>
<polyline points="55.50,238.00 78.66,231.54 94.10,232.19 109.54,238.00 132.70,238.00 171.30,236.71 209.90,236.06" fill="none" stroke="#5aaee5" stroke-width="1.95" stroke-linejoin="round"/>
<circle cx="55.50" cy="238.00" r="3.00" fill="#90c9ef" stroke="#5aaee5" stroke-width="0.7"/>
<circle cx="78.66" cy="231.54" r="3.00" fill="#90c9ef" stroke="#5aaee5" stroke-width="0.7"/>
<circle cx="94.10" cy="232.19" r="3.00" fill="#90c9ef" stroke="#5aaee5" stroke-width="0.7"/>
<circle cx="109.54" cy="238.00" r="3.00" fill="#90c9ef" stroke="#5aaee5" stroke-width="0.7"/>
<circle cx="132.70" cy="238.00" r="3.00" fill="#90c9ef" stroke="#5aaee5" stroke-width="0.7"/>
<circle cx="171.30" cy="236.71" r="3.00" fill="#90c9ef" stroke="#5aaee5" stroke-width="0.7"/>
<circle cx="209.90" cy="236.06" r="3.00" fill="#90c9ef" stroke="#5aaee5" stroke-width="0.7"/>
<polyline points="55.50,238.00 78.66,238.00 94.10,236.71 109.54,236.32 132.70,235.42 171.30,235.42 209.90,235.42" fill="none" stroke="#f5952e" stroke-width="1.95" stroke-linejoin="round"/>
<polygon points="55.50,234.55 58.95,240.40 52.05,240.40" fill="#f6c79c" stroke="#f5952e" stroke-width="0.7"/>
<polygon points="78.66,234.55 82.11,240.40 75.21,240.40" fill="#f6c79c" stroke="#f5952e" stroke-width="0.7"/>
<polygon points="94.10,233.26 97.55,239.11 90.65,239.11" fill="#f6c79c" stroke="#f5952e" stroke-width="0.7"/>
<polygon points="109.54,232.87 112.99,238.72 106.09,238.72" fill="#f6c79c" stroke="#f5952e" stroke-width="0.7"/>
<polygon points="132.70,231.97 136.15,237.82 129.25,237.82" fill="#f6c79c" stroke="#f5952e" stroke-width="0.7"/>
<polygon points="171.30,231.97 174.75,237.82 167.85,237.82" fill="#f6c79c" stroke="#f5952e" stroke-width="0.7"/>
<polygon points="209.90,231.97 213.35,237.82 206.45,237.82" fill="#f6c79c" stroke="#f5952e" stroke-width="0.7"/>
<polyline points="55.50,238.00 78.66,238.00 94.10,239.29 109.54,243.81 132.70,245.75 171.30,249.63 209.90,253.50" fill="none" stroke="#f06262" stroke-width="1.95" stroke-linejoin="round"/>
<polygon points="55.50,241.45 58.95,235.60 52.05,235.60" fill="#f6a9a9" stroke="#f06262" stroke-width="0.7"/>
<polygon points="78.66,241.45 82.11,235.60 75.21,235.60" fill="#f6a9a9" stroke="#f06262" stroke-width="0.7"/>
<polygon points="94.10,242.74 97.55,236.89 90.65,236.89" fill="#f6a9a9" stroke="#f06262" stroke-width="0.7"/>
<polygon points="109.54,247.26 112.99,241.41 106.09,241.41" fill="#f6a9a9" stroke="#f06262" stroke-width="0.7"/>
<polygon points="132.70,249.20 136.15,243.35 129.25,243.35" fill="#f6a9a9" stroke="#f06262" stroke-width="0.7"/>
<polygon points="171.30,253.08 174.75,247.23 167.85,247.23" fill="#f6a9a9" stroke="#f06262" stroke-width="0.7"/>
<polygon points="209.90,256.95 213.35,251.10 206.45,251.10" fill="#f6a9a9" stroke="#f06262" stroke-width="0.7"/>
<polyline points="55.50,238.00 78.66,241.23 94.10,244.46 109.54,245.75 132.70,246.14 171.30,246.53 209.90,248.34" fill="none" stroke="#9c6cd8" stroke-width="1.95" stroke-linejoin="round"/>
<polygon points="55.50,234.10 59.40,238.00 55.50,241.90 51.60,238.00" fill="#bfb6e2" stroke="#a78ad8" stroke-width="0.7"/>
<polygon points="78.66,237.33 82.56,241.23 78.66,245.13 74.76,241.23" fill="#bfb6e2" stroke="#a78ad8" stroke-width="0.7"/>
<polygon points="94.10,240.56 98.00,244.46 94.10,248.36 90.20,244.46" fill="#bfb6e2" stroke="#a78ad8" stroke-width="0.7"/>
<polygon points="109.54,241.85 113.44,245.75 109.54,249.65 105.64,245.75" fill="#bfb6e2" stroke="#a78ad8" stroke-width="0.7"/>
<polygon points="132.70,242.24 136.60,246.14 132.70,250.04 128.80,246.14" fill="#bfb6e2" stroke="#a78ad8" stroke-width="0.7"/>
<polygon points="171.30,242.63 175.20,246.53 171.30,250.43 167.40,246.53" fill="#bfb6e2" stroke="#a78ad8" stroke-width="0.7"/>
<polygon points="209.90,244.44 213.80,248.34 209.90,252.24 206.00,248.34" fill="#bfb6e2" stroke="#a78ad8" stroke-width="0.7"/>
<polyline points="55.50,238.00 78.66,230.25 94.10,232.83 109.54,236.06 132.70,235.16 171.30,235.42 209.90,235.42" fill="none" stroke="#fdba1c" stroke-width="1.95" stroke-linejoin="round"/>
<circle cx="55.50" cy="238.00" r="3.00" fill="#f7e7a0" stroke="#fdba1c" stroke-width="0.7"/>
<circle cx="78.66" cy="230.25" r="3.00" fill="#f7e7a0" stroke="#fdba1c" stroke-width="0.7"/>
<circle cx="94.10" cy="232.83" r="3.00" fill="#f7e7a0" stroke="#fdba1c" stroke-width="0.7"/>
<circle cx="109.54" cy="236.06" r="3.00" fill="#f7e7a0" stroke="#fdba1c" stroke-width="0.7"/>
<circle cx="132.70" cy="235.16" r="3.00" fill="#f7e7a0" stroke="#fdba1c" stroke-width="0.7"/>
<circle cx="171.30" cy="235.42" r="3.00" fill="#f7e7a0" stroke="#fdba1c" stroke-width="0.7"/>
<circle cx="209.90" cy="235.42" r="3.00" fill="#f7e7a0" stroke="#fdba1c" stroke-width="0.7"/>
<polyline points="55.50,238.00 78.66,278.96 94.10,312.16 109.54,331.15 132.70,349.76 171.30,364.10 209.90,366.42" fill="none" stroke="#f46cc4" stroke-width="1.95" stroke-linejoin="round"/>
<polygon points="58.95,238.00 53.10,234.55 53.10,241.45" fill="#f5a3d7" stroke="#f46cc4" stroke-width="0.7"/>
<polygon points="82.11,278.96 76.26,275.51 76.26,282.41" fill="#f5a3d7" stroke="#f46cc4" stroke-width="0.7"/>
<polygon points="97.55,312.16 91.70,308.71 91.70,315.61" fill="#f5a3d7" stroke="#f46cc4" stroke-width="0.7"/>
<polygon points="112.99,331.15 107.14,327.70 107.14,334.60" fill="#f5a3d7" stroke="#f46cc4" stroke-width="0.7"/>
<polygon points="136.15,349.76 130.30,346.31 130.30,353.21" fill="#f5a3d7" stroke="#f46cc4" stroke-width="0.7"/>
<polygon points="174.75,364.10 168.90,360.65 168.90,367.55" fill="#f5a3d7" stroke="#f46cc4" stroke-width="0.7"/>
<polygon points="213.35,366.42 207.50,362.97 207.50,369.87" fill="#f5a3d7" stroke="#f46cc4" stroke-width="0.7"/>
<rect x="36.40" y="224.80" width="192.50" height="155.40" fill="none" stroke="#1a1a1a" stroke-width="1.3"/>
<line x1="55.50" y1="380.20" x2="55.50" y2="377.00" stroke="#1a1a1a" stroke-width="1.1"/>
<line x1="94.10" y1="380.20" x2="94.10" y2="377.00" stroke="#1a1a1a" stroke-width="1.1"/>
<line x1="132.70" y1="380.20" x2="132.70" y2="377.00" stroke="#1a1a1a" stroke-width="1.1"/>
<line x1="171.30" y1="380.20" x2="171.30" y2="377.00" stroke="#1a1a1a" stroke-width="1.1"/>
<line x1="209.90" y1="380.20" x2="209.90" y2="377.00" stroke="#1a1a1a" stroke-width="1.1"/>
<line x1="74.80" y1="380.20" x2="74.80" y2="378.50" stroke="#1a1a1a" stroke-width="1.1"/>
<line x1="113.40" y1="380.20" x2="113.40" y2="378.50" stroke="#1a1a1a" stroke-width="1.1"/>
<line x1="152.00" y1="380.20" x2="152.00" y2="378.50" stroke="#1a1a1a" stroke-width="1.1"/>
<line x1="190.60" y1="380.20" x2="190.60" y2="378.50" stroke="#1a1a1a" stroke-width="1.1"/>
<line x1="36.40" y1="367.20" x2="39.60" y2="367.20" stroke="#1a1a1a" stroke-width="1.1"/>
<line x1="36.40" y1="341.36" x2="39.60" y2="341.36" stroke="#1a1a1a" stroke-width="1.1"/>
<line x1="36.40" y1="315.52" x2="39.60" y2="315.52" stroke="#1a1a1a" stroke-width="1.1"/>
<line x1="36.40" y1="289.68" x2="39.60" y2="289.68" stroke="#1a1a1a" stroke-width="1.1"/>
<line x1="36.40" y1="263.84" x2="39.60" y2="263.84" stroke="#1a1a1a" stroke-width="1.1"/>
<line x1="36.40" y1="238.00" x2="39.60" y2="238.00" stroke="#1a1a1a" stroke-width="1.1"/>
<line x1="36.40" y1="354.28" x2="38.10" y2="354.28" stroke="#1a1a1a" stroke-width="1.1"/>
<line x1="36.40" y1="328.44" x2="38.10" y2="328.44" stroke="#1a1a1a" stroke-width="1.1"/>
<line x1="36.40" y1="302.60" x2="38.10" y2="302.60" stroke="#1a1a1a" stroke-width="1.1"/>
<line x1="36.40" y1="276.76" x2="38.10" y2="276.76" stroke="#1a1a1a" stroke-width="1.1"/>
<line x1="36.40" y1="250.92" x2="38.10" y2="250.92" stroke="#1a1a1a" stroke-width="1.1"/>
<text x="32.90" y="371.30" font-size="11.4" text-anchor="end" fill="#1a1a1a" font-family="Liberation Sans">0.0</text>
<text x="32.90" y="345.46" font-size="11.4" text-anchor="end" fill="#1a1a1a" font-family="Liberation Sans">0.2</text>
<text x="32.90" y="319.62" font-size="11.4" text-anchor="end" fill="#1a1a1a" font-family="Liberation Sans">0.4</text>
<text x="32.90" y="293.78" font-size="11.4" text-anchor="end" fill="#1a1a1a" font-family="Liberation Sans">0.6</text>
<text x="32.90" y="267.94" font-size="11.4" text-anchor="end" fill="#1a1a1a" font-family="Liberation Sans">0.8</text>
<text x="32.90" y="242.10" font-size="11.4" text-anchor="end" fill="#1a1a1a" font-family="Liberation Sans">1.0</text>
<text x="55.50" y="392.80" font-size="11.4" text-anchor="middle" fill="#1a1a1a" font-family="Liberation Sans">0</text>
<text x="94.10" y="392.80" font-size="11.4" text-anchor="middle" fill="#1a1a1a" font-family="Liberation Sans">5</text>
<text x="132.70" y="392.80" font-size="11.4" text-anchor="middle" fill="#1a1a1a" font-family="Liberation Sans">10</text>
<text x="171.30" y="392.80" font-size="11.4" text-anchor="middle" fill="#1a1a1a" font-family="Liberation Sans">15</text>
<text x="209.90" y="392.80" font-size="11.4" text-anchor="middle" fill="#1a1a1a" font-family="Liberation Sans">20</text>
<text x="136.00" y="406.60" font-size="12.9" text-anchor="middle" fill="#1a1a1a" font-family="Liberation Sans">Time (min)</text>
<text transform="translate(10.9,296.5) rotate(-90)" font-size="12.9" text-anchor="middle" fill="#1a1a1a" font-family="Liberation Sans">SMX, C<tspan font-size="8.6" dy="3">t</tspan><tspan dy="-3">/C</tspan><tspan font-size="8.6" dy="3">0</tspan></text>
<line x1="148.70" y1="266.00" x2="166.50" y2="266.00" stroke="#8a8a8a" stroke-width="2.0"/>
<rect x="154.40" y="262.80" width="6.40" height="6.40" fill="#b9b9b9" stroke="#9a9a9a" stroke-width="0.7"/>
<text x="169.30" y="269.40" font-size="9.5" font-weight="bold" fill="#111" font-family="Liberation Sans">PMS</text>
<line x1="148.70" y1="278.70" x2="166.50" y2="278.70" stroke="#5aaee5" stroke-width="2.0"/>
<circle cx="157.60" cy="278.70" r="3.20" fill="#90c9ef" stroke="#5aaee5" stroke-width="0.7"/>
<text x="169.30" y="282.10" font-size="9.5" font-weight="bold" fill="#111" font-family="Liberation Sans">OH<tspan font-size="6.2" dy="-3.6">-</tspan></text>
<line x1="148.70" y1="291.20" x2="166.50" y2="291.20" stroke="#f5952e" stroke-width="2.0"/>
<polygon points="157.60,287.52 161.28,293.76 153.92,293.76" fill="#f6c79c" stroke="#f5952e" stroke-width="0.7"/>
<text x="169.30" y="294.60" font-size="9.5" font-weight="bold" fill="#111" font-family="Liberation Sans">CuO</text>
<line x1="148.70" y1="303.60" x2="166.50" y2="303.60" stroke="#f06262" stroke-width="2.0"/>
<polygon points="157.60,307.28 161.28,301.04 153.92,301.04" fill="#f6a9a9" stroke="#f06262" stroke-width="0.7"/>
<text x="169.30" y="307.00" font-size="9.5" font-weight="bold" fill="#111" font-family="Liberation Sans">PMS+CuO</text>
<line x1="148.70" y1="316.40" x2="166.50" y2="316.40" stroke="#9c6cd8" stroke-width="2.0"/>
<polygon points="157.60,312.24 161.76,316.40 157.60,320.56 153.44,316.40" fill="#bfb6e2" stroke="#a78ad8" stroke-width="0.7"/>
<text x="169.30" y="319.80" font-size="9.5" font-weight="bold" fill="#111" font-family="Liberation Sans">OH<tspan font-size="6.2" dy="-3.6">-</tspan><tspan dy="3.6">+PMS</tspan></text>
<line x1="148.70" y1="329.40" x2="166.50" y2="329.40" stroke="#fdba1c" stroke-width="2.0"/>
<circle cx="157.60" cy="329.40" r="3.20" fill="#f7e7a0" stroke="#fdba1c" stroke-width="0.7"/>
<text x="169.30" y="332.80" font-size="9.5" font-weight="bold" fill="#111" font-family="Liberation Sans">OH<tspan font-size="6.2" dy="-3.6">-</tspan><tspan dy="3.6">+CuO</tspan></text>
<line x1="43.80" y1="367.20" x2="61.00" y2="367.20" stroke="#f46cc4" stroke-width="2.0"/>
<polygon points="56.18,367.20 49.94,363.52 49.94,370.88" fill="#f5a3d7" stroke="#f46cc4" stroke-width="0.7"/>
<text x="64.60" y="370.70" font-size="9.7" font-weight="bold" fill="#e42828" font-family="Liberation Sans">OH<tspan font-size="6.4" dy="-3.8">-</tspan><tspan dy="3.8">+CuO+PMS</tspan></text>
<rect x="536.2" y="224.9" width="140.4" height="91.3" fill="#fff" stroke="#555" stroke-width="0.8"/>
<rect x="291.90" y="224.90" width="385.30" height="153.70" fill="none" stroke="#1a1a1a" stroke-width="1.3"/>
<line x1="291.90" y1="378.60" x2="291.90" y2="375.40" stroke="#1a1a1a" stroke-width="1.1"/>
<line x1="368.96" y1="378.60" x2="368.96" y2="375.40" stroke="#1a1a1a" stroke-width="1.1"/>
<line x1="446.02" y1="378.60" x2="446.02" y2="375.40" stroke="#1a1a1a" stroke-width="1.1"/>
<line x1="523.08" y1="378.60" x2="523.08" y2="375.40" stroke="#1a1a1a" stroke-width="1.1"/>
<line x1="600.14" y1="378.60" x2="600.14" y2="375.40" stroke="#1a1a1a" stroke-width="1.1"/>
<line x1="677.20" y1="378.60" x2="677.20" y2="375.40" stroke="#1a1a1a" stroke-width="1.1"/>
<line x1="330.43" y1="378.60" x2="330.43" y2="376.90" stroke="#1a1a1a" stroke-width="1.1"/>
<line x1="407.49" y1="378.60" x2="407.49" y2="376.90" stroke="#1a1a1a" stroke-width="1.1"/>
<line x1="484.55" y1="378.60" x2="484.55" y2="376.90" stroke="#1a1a1a" stroke-width="1.1"/>
<line x1="561.61" y1="378.60" x2="561.61" y2="376.90" stroke="#1a1a1a" stroke-width="1.1"/>
<line x1="638.67" y1="378.60" x2="638.67" y2="376.90" stroke="#1a1a1a" stroke-width="1.1"/>
<line x1="291.90" y1="367.00" x2="295.10" y2="367.00" stroke="#1a1a1a" stroke-width="1.1"/>
<line x1="291.90" y1="343.31" x2="295.10" y2="343.31" stroke="#1a1a1a" stroke-width="1.1"/>
<line x1="291.90" y1="319.63" x2="295.10" y2="319.63" stroke="#1a1a1a" stroke-width="1.1"/>
<line x1="291.90" y1="295.94" x2="295.10" y2="295.94" stroke="#1a1a1a" stroke-width="1.1"/>
<line x1="291.90" y1="272.26" x2="295.10" y2="272.26" stroke="#1a1a1a" stroke-width="1.1"/>
<line x1="291.90" y1="248.57" x2="295.10" y2="248.57" stroke="#1a1a1a" stroke-width="1.1"/>
<line x1="291.90" y1="224.89" x2="295.10" y2="224.89" stroke="#1a1a1a" stroke-width="1.1"/>
<line x1="291.90" y1="355.16" x2="293.60" y2="355.16" stroke="#1a1a1a" stroke-width="1.1"/>
<line x1="291.90" y1="331.47" x2="293.60" y2="331.47" stroke="#1a1a1a" stroke-width="1.1"/>
<line x1="291.90" y1="307.79" x2="293.60" y2="307.79" stroke="#1a1a1a" stroke-width="1.1"/>
<line x1="291.90" y1="284.10" x2="293.60" y2="284.10" stroke="#1a1a1a" stroke-width="1.1"/>
<line x1="291.90" y1="260.42" x2="293.60" y2="260.42" stroke="#1a1a1a" stroke-width="1.1"/>
<line x1="291.90" y1="236.73" x2="293.60" y2="236.73" stroke="#1a1a1a" stroke-width="1.1"/>
<text x="288.20" y="371.10" font-size="11.4" text-anchor="end" fill="#1a1a1a" font-family="Liberation Sans">0.0</text>
<text x="288.20" y="347.42" font-size="11.4" text-anchor="end" fill="#1a1a1a" font-family="Liberation Sans">0.5</text>
<text x="288.20" y="323.73" font-size="11.4" text-anchor="end" fill="#1a1a1a" font-family="Liberation Sans">1.0</text>
<text x="288.20" y="300.05" font-size="11.4" text-anchor="end" fill="#1a1a1a" font-family="Liberation Sans">1.5</text>
<text x="288.20" y="276.36" font-size="11.4" text-anchor="end" fill="#1a1a1a" font-family="Liberation Sans">2.0</text>
<text x="288.20" y="252.67" font-size="11.4" text-anchor="end" fill="#1a1a1a" font-family="Liberation Sans">2.5</text>
<text x="288.20" y="228.99" font-size="11.4" text-anchor="end" fill="#1a1a1a" font-family="Liberation Sans">3.0</text>
<text x="291.90" y="392.60" font-size="11.4" text-anchor="middle" fill="#1a1a1a" font-family="Liberation Sans">0.0</text>
<text x="368.96" y="392.60" font-size="11.4" text-anchor="middle" fill="#1a1a1a" font-family="Liberation Sans">0.1</text>
<text x="446.02" y="392.60" font-size="11.4" text-anchor="middle" fill="#1a1a1a" font-family="Liberation Sans">0.2</text>
<text x="523.08" y="392.60" font-size="11.4" text-anchor="middle" fill="#1a1a1a" font-family="Liberation Sans">0.3</text>
<text x="600.14" y="392.60" font-size="11.4" text-anchor="middle" fill="#1a1a1a" font-family="Liberation Sans">0.4</text>
<text x="677.20" y="392.60" font-size="11.4" text-anchor="middle" fill="#1a1a1a" font-family="Liberation Sans">0.5</text>
<text x="484.80" y="405.00" font-size="12.5" text-anchor="middle" fill="#1a1a1a" font-family="Liberation Sans">PMS (mM)/SMX (mg/L)</text>
<text transform="translate(262.2,301.5) rotate(-90)" font-size="12.6" text-anchor="middle" fill="#1a1a1a" font-family="Liberation Sans">k (min<tspan font-size="8.4" dy="-4.2">-1</tspan><tspan dy="4.2">)/Catalyst (g/L)</tspan></text>
<rect x="349.65" y="360.26" width="7.80" height="7.80" fill="#a9d0ea" stroke="#62a6d8" stroke-width="0.8"/>
<rect x="350.05" y="349.29" width="7.00" height="7.00" fill="#fff" fill-opacity="0.3" stroke="#84bce4" stroke-width="0.8"/>
<line x1="350.05" y1="352.79" x2="357.05" y2="352.79" stroke="#84bce4" stroke-width="0.8"/>
<line x1="353.55" y1="349.29" x2="353.55" y2="356.29" stroke="#84bce4" stroke-width="0.8"/>
<polygon points="353.55,365.85 356.42,360.97 350.67,360.97" fill="#f7a55a" stroke="#f5952e" stroke-width="0.8"/>
<polygon points="350.10,360.37 355.95,356.92 355.95,363.82" fill="none" stroke="#6f6f6f" stroke-width="0.8"/>
<line x1="350.10" y1="360.37" x2="357.75" y2="360.37" stroke="#6f6f6f" stroke-width="0.8"/>
<line x1="353.55" y1="357.97" x2="353.55" y2="362.77" stroke="#6f6f6f" stroke-width="0.8"/>
<circle cx="330.89" cy="350.18" r="3.70" fill="none" stroke="#f5a241" stroke-width="0.8"/>
<line x1="327.19" y1="350.18" x2="334.59" y2="350.18" stroke="#f5a241" stroke-width="0.8"/>
<line x1="330.89" y1="346.48" x2="330.89" y2="353.88" stroke="#f5a241" stroke-width="0.8"/>
<polygon points="349.25,328.63 355.88,324.72 355.88,332.54" fill="#f9e391" stroke="#f5c443" stroke-width="0.8"/>
<polygon points="373.64,339.05 367.01,335.14 367.01,342.96" fill="#f484cc" stroke="#f070c4" stroke-width="0.8"/>
<polygon points="392.08,289.91 395.98,293.81 392.08,297.71 388.18,293.81" fill="#b8aae4" stroke="#a693dc" stroke-width="0.8"/>
<polygon points="392.08,285.88 389.31,284.28 389.31,281.08 392.08,279.48 394.85,281.08 394.85,284.28" fill="#e2966c" stroke="#d9845a" stroke-width="0.8"/>
<polygon points="446.02,354.27 447.13,356.94 450.01,357.18 447.82,359.06 448.49,361.87 446.02,360.36 443.55,361.87 444.22,359.06 442.03,357.18 444.91,356.94" fill="#a3ad72" stroke="#8f9b3c" stroke-width="0.8"/>
<polygon points="492.26,316.23 495.49,318.58 494.25,322.38 490.26,322.38 489.02,318.58" fill="#ababab" stroke="#9a9a9a" stroke-width="0.8"/>
<polygon points="446.02,306.48 449.70,312.72 442.34,312.72" fill="none" stroke="#f26c6c" stroke-width="0.8"/>
<line x1="443.46" y1="310.16" x2="448.58" y2="310.16" stroke="#f26c6c" stroke-width="0.8"/>
<line x1="446.02" y1="306.48" x2="446.02" y2="314.64" stroke="#f26c6c" stroke-width="0.8"/>
<polygon points="523.08,306.26 526.98,310.16 523.08,314.06 519.18,310.16" fill="none" stroke="#b17fe0" stroke-width="0.8"/>
<line x1="519.18" y1="310.16" x2="526.98" y2="310.16" stroke="#b17fe0" stroke-width="0.8"/>
<line x1="523.08" y1="306.26" x2="523.08" y2="314.06" stroke="#b17fe0" stroke-width="0.8"/>
<circle cx="353.32" cy="247.15" r="4.90" fill="#f7b9bf" stroke="#ee6b76" stroke-width="0.8"/>
<line x1="337.00" y1="266.20" x2="346.18" y2="255.62" stroke="#f05a6a" stroke-width="1.0"/>
<polygon points="348.80,252.60 347.54,256.80 344.82,254.44" fill="#f05a6a" stroke="none" stroke-width="0.8"/>
<line x1="332.00" y1="356.20" x2="344.04" y2="362.37" stroke="#3e98cf" stroke-width="1.1"/>
<polygon points="347.60,364.20 343.22,363.98 344.86,360.77" fill="#3e98cf" stroke="none" stroke-width="0.8"/>
<text x="316.60" y="275.90" font-size="10" font-weight="bold" fill="#111" font-family="Liberation Sans">This work :</text>
<text x="318.60" y="292.20" font-size="10" font-weight="bold" fill="#111" font-family="Liberation Sans">OH<tspan font-size="6.6" dy="-3.9">-</tspan><tspan dy="3.9">/CuO</tspan></text>
<text x="294.40" y="341.50" font-size="10" font-weight="bold" fill="#111" font-family="Liberation Sans">This work :</text>
<text x="307.80" y="359.00" font-size="10" font-weight="bold" fill="#111" font-family="Liberation Sans">CuO</text>
<circle cx="547.60" cy="235.00" r="3.60" fill="#f7b9bf" stroke="#ee6b76" stroke-width="0.8"/>
<text x="555.80" y="237.50" font-size="6.85" font-weight="bold" fill="#111" font-family="Liberation Sans">OH<tspan font-size="4.8" baseline-shift="2.8">-</tspan>/CuO</text>
<polygon points="608.50,231.40 609.45,233.69 611.92,233.89 610.04,235.50 610.62,237.91 608.50,236.62 606.38,237.91 606.96,235.50 605.08,233.89 607.55,233.69" fill="#a3ad72" stroke="#8f9b3c" stroke-width="0.8"/>
<text x="616.60" y="237.50" font-size="6.85" font-weight="bold" fill="#111" font-family="Liberation Sans">CuBi<tspan font-size="4.8" baseline-shift="-1.6">2</tspan>O<tspan font-size="4.8" baseline-shift="-1.6">4</tspan>-WC500<tspan font-size="4.8" baseline-shift="2.8">43</tspan></text>
<rect x="544.40" y="243.80" width="6.40" height="6.40" fill="#a9d0ea" stroke="#62a6d8" stroke-width="0.8"/>
<text x="555.80" y="249.50" font-size="6.85" font-weight="bold" fill="#111" font-family="Liberation Sans">CuO</text>
<polygon points="608.50,243.60 611.73,245.95 610.50,249.75 606.50,249.75 605.27,245.95" fill="#ababab" stroke="#9a9a9a" stroke-width="0.8"/>
<text x="616.60" y="249.50" font-size="6.85" font-weight="bold" fill="#111" font-family="Liberation Sans">Cu-LaMnO<tspan font-size="4.8" baseline-shift="-1.6">3</tspan>-1/3<tspan font-size="4.8" baseline-shift="2.8">44</tspan></text>
<polygon points="547.60,262.25 551.05,256.40 544.15,256.40" fill="#f7a55a" stroke="#f5952e" stroke-width="0.8"/>
<text x="555.80" y="261.30" font-size="6.85" font-weight="bold" fill="#111" font-family="Liberation Sans">C-Cu-Mxene<tspan font-size="4.8" baseline-shift="2.8">38</tspan></text>
<rect x="605.30" y="255.60" width="6.40" height="6.40" fill="#fff" fill-opacity="0.3" stroke="#84bce4" stroke-width="0.8"/>
<line x1="605.30" y1="258.80" x2="611.70" y2="258.80" stroke="#84bce4" stroke-width="0.8"/>
<line x1="608.50" y1="255.60" x2="608.50" y2="262.00" stroke="#84bce4" stroke-width="0.8"/>
<text x="616.60" y="261.30" font-size="6.85" font-weight="bold" fill="#111" font-family="Liberation Sans">Fe-Mn-CuHS<tspan font-size="4.8" baseline-shift="2.8">45</tspan></text>
<polygon points="547.60,266.60 551.50,270.50 547.60,274.40 543.70,270.50" fill="#b8aae4" stroke="#a693dc" stroke-width="0.8"/>
<text x="555.80" y="273.00" font-size="6.85" font-weight="bold" fill="#111" font-family="Liberation Sans">Cu<tspan font-size="4.8" baseline-shift="-1.6">NP</tspan>-NC<tspan font-size="4.8" baseline-shift="2.8">39</tspan></text>
<circle cx="608.50" cy="270.50" r="3.20" fill="none" stroke="#f5a241" stroke-width="0.8"/>
<line x1="605.30" y1="270.50" x2="611.70" y2="270.50" stroke="#f5a241" stroke-width="0.8"/>
<line x1="608.50" y1="267.30" x2="608.50" y2="273.70" stroke="#f5a241" stroke-width="0.8"/>
<text x="616.60" y="273.00" font-size="6.85" font-weight="bold" fill="#111" font-family="Liberation Sans">CuSA/Ace-COF<tspan font-size="4.8" baseline-shift="2.8">46</tspan></text>
<polygon points="543.69,282.20 550.32,278.29 550.32,286.11" fill="#f9e391" stroke="#f5c443" stroke-width="0.8"/>
<text x="555.80" y="284.70" font-size="6.85" font-weight="bold" fill="#111" font-family="Liberation Sans">CuFe-NBC<tspan font-size="4.8" baseline-shift="2.8">40</tspan></text>
<polygon points="608.50,278.52 612.18,284.76 604.82,284.76" fill="none" stroke="#f26c6c" stroke-width="0.8"/>
<line x1="605.94" y1="282.20" x2="611.06" y2="282.20" stroke="#f26c6c" stroke-width="0.8"/>
<line x1="608.50" y1="278.52" x2="608.50" y2="286.68" stroke="#f26c6c" stroke-width="0.8"/>
<text x="616.60" y="284.70" font-size="6.85" font-weight="bold" fill="#111" font-family="Liberation Sans">CuSA/PMOF<tspan font-size="4.8" baseline-shift="2.8">47</tspan></text>
<polygon points="551.51,294.00 544.88,290.09 544.88,297.91" fill="#f484cc" stroke="#f070c4" stroke-width="0.8"/>
<text x="555.80" y="296.50" font-size="6.85" font-weight="bold" fill="#111" font-family="Liberation Sans">CuO@MnO<tspan font-size="4.8" baseline-shift="-1.6">2</tspan><tspan font-size="4.8" baseline-shift="2.8">41</tspan></text>
<polygon points="608.50,290.10 612.40,294.00 608.50,297.90 604.60,294.00" fill="none" stroke="#b17fe0" stroke-width="0.8"/>
<line x1="604.60" y1="294.00" x2="612.40" y2="294.00" stroke="#b17fe0" stroke-width="0.8"/>
<line x1="608.50" y1="290.10" x2="608.50" y2="297.90" stroke="#b17fe0" stroke-width="0.8"/>
<text x="616.60" y="296.50" font-size="6.85" font-weight="bold" fill="#111" font-family="Liberation Sans">Fe<tspan font-size="4.8" baseline-shift="2.8">0</tspan>@Fe<tspan font-size="4.8" baseline-shift="-1.6">3</tspan>O<tspan font-size="4.8" baseline-shift="-1.6">4</tspan>-MC<tspan font-size="4.8" baseline-shift="2.8">48</tspan></text>
<polygon points="547.60,309.20 544.83,307.60 544.83,304.40 547.60,302.80 550.37,304.40 550.37,307.60" fill="#e2966c" stroke="#d9845a" stroke-width="0.8"/>
<text x="555.80" y="308.50" font-size="6.85" font-weight="bold" fill="#111" font-family="Liberation Sans">3D Co/CuO<tspan font-size="4.8" baseline-shift="2.8">42</tspan></text>
<polygon points="605.05,306.00 610.90,302.55 610.90,309.45" fill="none" stroke="#6f6f6f" stroke-width="0.8"/>
<line x1="605.05" y1="306.00" x2="612.70" y2="306.00" stroke="#6f6f6f" stroke-width="0.8"/>
<line x1="608.50" y1="303.60" x2="608.50" y2="308.40" stroke="#6f6f6f" stroke-width="0.8"/>
<text x="616.60" y="308.50" font-size="6.85" font-weight="bold" fill="#111" font-family="Liberation Sans">FeO<tspan font-size="4.8" baseline-shift="-1.6">y</tspan>/S-g-C<tspan font-size="4.8" baseline-shift="-1.6">3</tspan>N<tspan font-size="4.8" baseline-shift="-1.6">4</tspan><tspan font-size="4.8" baseline-shift="2.8">49</tspan></text>
<line x1="79.90" y1="427.00" x2="79.90" y2="578.20" stroke="#1a1a1a" stroke-width="1.3" stroke-dasharray="4.8,5.8"/>
<line x1="110.20" y1="427.00" x2="110.20" y2="578.20" stroke="#1a1a1a" stroke-width="1.3" stroke-dasharray="4.8,5.8"/>
<line x1="140.50" y1="427.00" x2="140.50" y2="578.20" stroke="#1a1a1a" stroke-width="1.3" stroke-dasharray="4.8,5.8"/>
<line x1="170.80" y1="427.00" x2="170.80" y2="578.20" stroke="#1a1a1a" stroke-width="1.3" stroke-dasharray="4.8,5.8"/>
<polyline points="49.60,439.50 54.15,479.85 57.17,511.76 60.20,530.92 64.75,548.20 72.33,563.08" fill="none" stroke="#4ea6e0" stroke-width="1.9" stroke-linejoin="round"/>
<rect x="46.70" y="436.60" width="5.80" height="5.80" fill="#7bbce9" stroke="#4ea6e0" stroke-width="0.7"/>
<rect x="51.25" y="476.95" width="5.80" height="5.80" fill="#7bbce9" stroke="#4ea6e0" stroke-width="0.7"/>
<rect x="54.27" y="508.86" width="5.80" height="5.80" fill="#7bbce9" stroke="#4ea6e0" stroke-width="0.7"/>
<rect x="57.30" y="528.02" width="5.80" height="5.80" fill="#7bbce9" stroke="#4ea6e0" stroke-width="0.7"/>
<rect x="61.85" y="545.30" width="5.80" height="5.80" fill="#7bbce9" stroke="#4ea6e0" stroke-width="0.7"/>
<rect x="69.42" y="560.18" width="5.80" height="5.80" fill="#7bbce9" stroke="#4ea6e0" stroke-width="0.7"/>
<rect x="77.00" y="562.20" width="5.80" height="5.80" fill="#7bbce9" stroke="#4ea6e0" stroke-width="0.7"/>
<polyline points="79.90,439.50 84.44,471.40 87.47,503.56 90.50,519.45 95.05,538.24 102.62,557.53 110.20,563.20" fill="none" stroke="#e85a5a" stroke-width="1.9" stroke-linejoin="round"/>
<circle cx="79.90" cy="439.50" r="2.90" fill="#f5b2b2" stroke="#e85a5a" stroke-width="0.7"/>
<circle cx="84.44" cy="471.40" r="2.90" fill="#f5b2b2" stroke="#e85a5a" stroke-width="0.7"/>
<circle cx="87.47" cy="503.56" r="2.90" fill="#f5b2b2" stroke="#e85a5a" stroke-width="0.7"/>
<circle cx="90.50" cy="519.45" r="2.90" fill="#f5b2b2" stroke="#e85a5a" stroke-width="0.7"/>
<circle cx="95.05" cy="538.24" r="2.90" fill="#f5b2b2" stroke="#e85a5a" stroke-width="0.7"/>
<circle cx="102.62" cy="557.53" r="2.90" fill="#f5b2b2" stroke="#e85a5a" stroke-width="0.7"/>
<circle cx="110.20" cy="563.20" r="2.90" fill="#f5b2b2" stroke="#e85a5a" stroke-width="0.7"/>
<polyline points="110.20,439.50 114.75,469.13 117.78,502.17 120.81,515.16 125.35,532.18 132.92,547.95 140.50,561.82" fill="none" stroke="#f7a04a" stroke-width="1.9" stroke-linejoin="round"/>
<polygon points="110.20,436.17 113.53,441.82 106.86,441.82" fill="#f8c69a" stroke="#f7a04a" stroke-width="0.7"/>
<polygon points="114.75,465.80 118.08,471.45 111.41,471.45" fill="#f8c69a" stroke="#f7a04a" stroke-width="0.7"/>
<polygon points="117.78,498.84 121.11,504.49 114.44,504.49" fill="#f8c69a" stroke="#f7a04a" stroke-width="0.7"/>
<polygon points="120.81,511.83 124.14,517.48 117.47,517.48" fill="#f8c69a" stroke="#f7a04a" stroke-width="0.7"/>
<polygon points="125.35,528.85 128.69,534.50 122.02,534.50" fill="#f8c69a" stroke="#f7a04a" stroke-width="0.7"/>
<polygon points="132.92,544.61 136.26,550.27 129.59,550.27" fill="#f8c69a" stroke="#f7a04a" stroke-width="0.7"/>
<polygon points="140.50,558.48 143.84,564.14 137.16,564.14" fill="#f8c69a" stroke="#f7a04a" stroke-width="0.7"/>
<polyline points="140.50,439.50 145.04,464.09 148.07,495.87 151.10,513.52 155.65,528.02 163.22,541.64 170.80,558.03" fill="none" stroke="#9c6cd8" stroke-width="1.9" stroke-linejoin="round"/>
<polygon points="140.50,442.83 143.84,437.18 137.16,437.18" fill="#b9b3df" stroke="#a78ad8" stroke-width="0.7"/>
<polygon points="145.04,467.42 148.38,461.77 141.71,461.77" fill="#b9b3df" stroke="#a78ad8" stroke-width="0.7"/>
<polygon points="148.07,499.20 151.41,493.55 144.74,493.55" fill="#b9b3df" stroke="#a78ad8" stroke-width="0.7"/>
<polygon points="151.10,516.86 154.44,511.20 147.77,511.20" fill="#b9b3df" stroke="#a78ad8" stroke-width="0.7"/>
<polygon points="155.65,531.36 158.99,525.70 152.31,525.70" fill="#b9b3df" stroke="#a78ad8" stroke-width="0.7"/>
<polygon points="163.22,544.98 166.56,539.32 159.89,539.32" fill="#b9b3df" stroke="#a78ad8" stroke-width="0.7"/>
<polygon points="170.80,561.37 174.13,555.71 167.46,555.71" fill="#b9b3df" stroke="#a78ad8" stroke-width="0.7"/>
<polyline points="170.80,439.50 175.34,460.81 178.38,493.60 181.40,510.87 185.95,523.99 193.52,540.38 201.10,558.03" fill="none" stroke="#fdba1c" stroke-width="1.9" stroke-linejoin="round"/>
<polygon points="170.80,435.73 174.57,439.50 170.80,443.27 167.03,439.50" fill="#f8e49a" stroke="#f5c23a" stroke-width="0.7"/>
<polygon points="175.34,457.04 179.12,460.81 175.34,464.58 171.57,460.81" fill="#f8e49a" stroke="#f5c23a" stroke-width="0.7"/>
<polygon points="178.38,489.83 182.15,493.60 178.38,497.37 174.60,493.60" fill="#f8e49a" stroke="#f5c23a" stroke-width="0.7"/>
<polygon points="181.40,507.10 185.17,510.87 181.40,514.64 177.63,510.87" fill="#f8e49a" stroke="#f5c23a" stroke-width="0.7"/>
<polygon points="185.95,520.22 189.72,523.99 185.95,527.76 182.18,523.99" fill="#f8e49a" stroke="#f5c23a" stroke-width="0.7"/>
<polygon points="193.52,536.61 197.29,540.38 193.52,544.15 189.75,540.38" fill="#f8e49a" stroke="#f5c23a" stroke-width="0.7"/>
<polygon points="201.10,554.26 204.87,558.03 201.10,561.80 197.33,558.03" fill="#f8e49a" stroke="#f5c23a" stroke-width="0.7"/>
<rect x="34.90" y="427.00" width="181.40" height="151.20" fill="none" stroke="#1a1a1a" stroke-width="1.3"/>
<line x1="49.60" y1="578.20" x2="49.60" y2="575.00" stroke="#1a1a1a" stroke-width="1.1"/>
<line x1="79.90" y1="578.20" x2="79.90" y2="575.00" stroke="#1a1a1a" stroke-width="1.1"/>
<line x1="110.20" y1="578.20" x2="110.20" y2="575.00" stroke="#1a1a1a" stroke-width="1.1"/>
<line x1="140.50" y1="578.20" x2="140.50" y2="575.00" stroke="#1a1a1a" stroke-width="1.1"/>
<line x1="170.80" y1="578.20" x2="170.80" y2="575.00" stroke="#1a1a1a" stroke-width="1.1"/>
<line x1="201.10" y1="578.20" x2="201.10" y2="575.00" stroke="#1a1a1a" stroke-width="1.1"/>
<line x1="34.45" y1="578.20" x2="34.45" y2="576.50" stroke="#1a1a1a" stroke-width="1.1"/>
<line x1="64.75" y1="578.20" x2="64.75" y2="576.50" stroke="#1a1a1a" stroke-width="1.1"/>
<line x1="95.05" y1="578.20" x2="95.05" y2="576.50" stroke="#1a1a1a" stroke-width="1.1"/>
<line x1="125.35" y1="578.20" x2="125.35" y2="576.50" stroke="#1a1a1a" stroke-width="1.1"/>
<line x1="155.65" y1="578.20" x2="155.65" y2="576.50" stroke="#1a1a1a" stroke-width="1.1"/>
<line x1="185.95" y1="578.20" x2="185.95" y2="576.50" stroke="#1a1a1a" stroke-width="1.1"/>
<line x1="34.90" y1="565.60" x2="38.10" y2="565.60" stroke="#1a1a1a" stroke-width="1.1"/>
<line x1="34.90" y1="540.38" x2="38.10" y2="540.38" stroke="#1a1a1a" stroke-width="1.1"/>
<line x1="34.90" y1="515.16" x2="38.10" y2="515.16" stroke="#1a1a1a" stroke-width="1.1"/>
<line x1="34.90" y1="489.94" x2="38.10" y2="489.94" stroke="#1a1a1a" stroke-width="1.1"/>
<line x1="34.90" y1="464.72" x2="38.10" y2="464.72" stroke="#1a1a1a" stroke-width="1.1"/>
<line x1="34.90" y1="439.50" x2="38.10" y2="439.50" stroke="#1a1a1a" stroke-width="1.1"/>
<line x1="34.90" y1="552.99" x2="36.60" y2="552.99" stroke="#1a1a1a" stroke-width="1.1"/>
<line x1="34.90" y1="527.77" x2="36.60" y2="527.77" stroke="#1a1a1a" stroke-width="1.1"/>
<line x1="34.90" y1="502.55" x2="36.60" y2="502.55" stroke="#1a1a1a" stroke-width="1.1"/>
<line x1="34.90" y1="477.33" x2="36.60" y2="477.33" stroke="#1a1a1a" stroke-width="1.1"/>
<line x1="34.90" y1="452.11" x2="36.60" y2="452.11" stroke="#1a1a1a" stroke-width="1.1"/>
<text x="31.20" y="569.70" font-size="11.4" text-anchor="end" fill="#1a1a1a" font-family="Liberation Sans">0.0</text>
<text x="31.20" y="544.48" font-size="11.4" text-anchor="end" fill="#1a1a1a" font-family="Liberation Sans">0.2</text>
<text x="31.20" y="519.26" font-size="11.4" text-anchor="end" fill="#1a1a1a" font-family="Liberation Sans">0.4</text>
<text x="31.20" y="494.04" font-size="11.4" text-anchor="end" fill="#1a1a1a" font-family="Liberation Sans">0.6</text>
<text x="31.20" y="468.82" font-size="11.4" text-anchor="end" fill="#1a1a1a" font-family="Liberation Sans">0.8</text>
<text x="31.20" y="443.60" font-size="11.4" text-anchor="end" fill="#1a1a1a" font-family="Liberation Sans">1.0</text>
<text x="49.60" y="591.60" font-size="11.4" text-anchor="middle" fill="#1a1a1a" font-family="Liberation Sans">0</text>
<text x="79.90" y="591.60" font-size="11.4" text-anchor="middle" fill="#1a1a1a" font-family="Liberation Sans">20</text>
<text x="110.20" y="591.60" font-size="11.4" text-anchor="middle" fill="#1a1a1a" font-family="Liberation Sans">40</text>
<text x="140.50" y="591.60" font-size="11.4" text-anchor="middle" fill="#1a1a1a" font-family="Liberation Sans">60</text>
<text x="170.80" y="591.60" font-size="11.4" text-anchor="middle" fill="#1a1a1a" font-family="Liberation Sans">80</text>
<text x="201.10" y="591.60" font-size="11.4" text-anchor="middle" fill="#1a1a1a" font-family="Liberation Sans">100</text>
<text x="128.90" y="605.80" font-size="12.9" text-anchor="middle" fill="#1a1a1a" font-family="Liberation Sans">Time (min)</text>
<text transform="translate(10.9,502.6) rotate(-90)" font-size="12.9" text-anchor="middle" fill="#1a1a1a" font-family="Liberation Sans">SMX, C<tspan font-size="8.6" dy="3">t</tspan><tspan dy="-3">/C</tspan><tspan font-size="8.6" dy="3">0</tspan></text>
<text x="56.60" y="443.50" font-size="9.5" font-weight="bold" fill="#111" font-family="Liberation Sans">1st</text>
<text x="87.60" y="443.50" font-size="9.5" font-weight="bold" fill="#111" font-family="Liberation Sans">2nd</text>
<text x="118.30" y="443.50" font-size="9.5" font-weight="bold" fill="#111" font-family="Liberation Sans">3rd</text>
<text x="149.30" y="443.50" font-size="9.5" font-weight="bold" fill="#111" font-family="Liberation Sans">4th</text>
<text x="179.40" y="443.50" font-size="9.5" font-weight="bold" fill="#111" font-family="Liberation Sans">5th</text>
<rect x="422.3" y="453.2" width="16.8" height="122.4" fill="url(#gbar)"/>
<line x1="422.60" y1="453.20" x2="422.60" y2="575.60" stroke="#8fd08f" stroke-width="0.7"/>
<line x1="438.80" y1="453.20" x2="438.80" y2="575.60" stroke="#8fd08f" stroke-width="0.7"/>
<line x1="430.90" y1="453.20" x2="430.90" y2="438.80" stroke="#a6dba6" stroke-width="1.2"/>
<polyline points="429.2,437.8 430.9,440.6 432.6,437.8" fill="none" stroke="#a6dba6" stroke-width="0.9"/>
<circle cx="430.9" cy="443.2" r="1.6" fill="#6fb2ea" stroke="#5aa0e0" stroke-width="0.4"/>
<circle cx="424.9" cy="463.8" r="1.6" fill="#6fb2ea" stroke="#5aa0e0" stroke-width="0.4"/>
<polygon points="437.10,450.60 439.20,454.20 435.00,454.20" fill="#6fb2ea" stroke="none" stroke-width="0.8"/>
<circle cx="274.00" cy="574.0" r="1.3" fill="#7ab9ec" opacity="0.9"/>
<circle cx="279.50" cy="574.0" r="1.3" fill="#7ab9ec" opacity="0.9"/>
<circle cx="285.00" cy="574.0" r="1.3" fill="#7ab9ec" opacity="0.9"/>
<circle cx="304.10" cy="574.0" r="1.3" fill="#7ab9ec" opacity="0.9"/>
<circle cx="309.60" cy="574.0" r="1.3" fill="#7ab9ec" opacity="0.9"/>
<circle cx="315.10" cy="574.0" r="1.3" fill="#7ab9ec" opacity="0.9"/>
<circle cx="334.10" cy="574.0" r="1.3" fill="#7ab9ec" opacity="0.9"/>
<circle cx="339.60" cy="574.0" r="1.3" fill="#7ab9ec" opacity="0.9"/>
<circle cx="345.10" cy="574.0" r="1.3" fill="#7ab9ec" opacity="0.9"/>
<circle cx="364.50" cy="574.0" r="1.3" fill="#7ab9ec" opacity="0.9"/>
<circle cx="370.00" cy="574.0" r="1.3" fill="#7ab9ec" opacity="0.9"/>
<circle cx="375.50" cy="574.0" r="1.3" fill="#7ab9ec" opacity="0.9"/>
<circle cx="394.80" cy="574.0" r="1.3" fill="#7ab9ec" opacity="0.9"/>
<circle cx="400.30" cy="574.0" r="1.3" fill="#7ab9ec" opacity="0.9"/>
<circle cx="405.80" cy="574.0" r="1.3" fill="#7ab9ec" opacity="0.9"/>
<line x1="264.80" y1="573.31" x2="446.00" y2="573.31" stroke="#e82222" stroke-width="1.0" stroke-dasharray="2.0,1.4"/>
<rect x="264.30" y="427.70" width="181.90" height="148.00" fill="none" stroke="#1a1a1a" stroke-width="1.3"/>
<line x1="264.30" y1="575.60" x2="267.50" y2="575.60" stroke="#1a1a1a" stroke-width="1.1"/>
<line x1="264.30" y1="552.73" x2="267.50" y2="552.73" stroke="#1a1a1a" stroke-width="1.1"/>
<line x1="264.30" y1="529.85" x2="267.50" y2="529.85" stroke="#1a1a1a" stroke-width="1.1"/>
<line x1="264.30" y1="506.98" x2="267.50" y2="506.98" stroke="#1a1a1a" stroke-width="1.1"/>
<line x1="264.30" y1="484.10" x2="267.50" y2="484.10" stroke="#1a1a1a" stroke-width="1.1"/>
<line x1="264.30" y1="461.23" x2="267.50" y2="461.23" stroke="#1a1a1a" stroke-width="1.1"/>
<line x1="264.30" y1="438.35" x2="267.50" y2="438.35" stroke="#1a1a1a" stroke-width="1.1"/>
<line x1="264.30" y1="564.16" x2="266.00" y2="564.16" stroke="#1a1a1a" stroke-width="1.1"/>
<line x1="264.30" y1="541.29" x2="266.00" y2="541.29" stroke="#1a1a1a" stroke-width="1.1"/>
<line x1="264.30" y1="518.41" x2="266.00" y2="518.41" stroke="#1a1a1a" stroke-width="1.1"/>
<line x1="264.30" y1="495.54" x2="266.00" y2="495.54" stroke="#1a1a1a" stroke-width="1.1"/>
<line x1="264.30" y1="472.66" x2="266.00" y2="472.66" stroke="#1a1a1a" stroke-width="1.1"/>
<line x1="264.30" y1="449.79" x2="266.00" y2="449.79" stroke="#1a1a1a" stroke-width="1.1"/>
<text x="262.40" y="579.70" font-size="11.4" text-anchor="end" fill="#1a1a1a" font-family="Liberation Sans">0.0</text>
<text x="262.40" y="556.83" font-size="11.4" text-anchor="end" fill="#1a1a1a" font-family="Liberation Sans">0.5</text>
<text x="262.40" y="533.95" font-size="11.4" text-anchor="end" fill="#1a1a1a" font-family="Liberation Sans">1.0</text>
<text x="262.40" y="511.08" font-size="11.4" text-anchor="end" fill="#1a1a1a" font-family="Liberation Sans">1.5</text>
<text x="262.40" y="488.20" font-size="11.4" text-anchor="end" fill="#1a1a1a" font-family="Liberation Sans">2.0</text>
<text x="262.40" y="465.33" font-size="11.4" text-anchor="end" fill="#1a1a1a" font-family="Liberation Sans">2.5</text>
<text x="262.40" y="442.45" font-size="11.4" text-anchor="end" fill="#1a1a1a" font-family="Liberation Sans">3.0</text>
<text x="279.50" y="588.20" font-size="11.4" text-anchor="middle" fill="#1a1a1a" font-family="Liberation Sans">1st</text>
<text x="309.60" y="588.20" font-size="11.4" text-anchor="middle" fill="#1a1a1a" font-family="Liberation Sans">2nd</text>
<text x="339.60" y="588.20" font-size="11.4" text-anchor="middle" fill="#1a1a1a" font-family="Liberation Sans">3rd</text>
<text x="370.00" y="588.20" font-size="11.4" text-anchor="middle" fill="#1a1a1a" font-family="Liberation Sans">4th</text>
<text x="400.30" y="588.20" font-size="11.4" text-anchor="middle" fill="#1a1a1a" font-family="Liberation Sans">5th</text>
<text x="431.00" y="588.20" font-size="11.4" text-anchor="middle" fill="#1a1a1a" font-family="Liberation Sans">without</text>
<text x="431.00" y="602.80" font-size="11.4" text-anchor="middle" fill="#1a1a1a" font-family="Liberation Sans">OH<tspan font-size="7.6" dy="-4.4">-</tspan></text>
<text x="279.50" y="571.90" font-size="6.2" font-weight="bold" text-anchor="middle" fill="#111" font-family="Liberation Sans">0.0391</text>
<text x="309.60" y="571.90" font-size="6.2" font-weight="bold" text-anchor="middle" fill="#111" font-family="Liberation Sans">0.0451</text>
<text x="339.60" y="571.90" font-size="6.2" font-weight="bold" text-anchor="middle" fill="#111" font-family="Liberation Sans">0.0177</text>
<text x="370.00" y="571.90" font-size="6.2" font-weight="bold" text-anchor="middle" fill="#111" font-family="Liberation Sans">0.0285</text>
<text x="400.30" y="571.90" font-size="6.2" font-weight="bold" text-anchor="middle" fill="#111" font-family="Liberation Sans">0.0237</text>
<text x="431.00" y="437.30" font-size="6.4" font-weight="bold" text-anchor="middle" fill="#111" font-family="Liberation Sans">2.68</text>
<text x="308.60" y="551.30" font-size="9.6" font-weight="bold" fill="#111" font-family="Liberation Sans">All &lt; 0.050</text>
<text x="275.50" y="438.40" font-size="7.1" fill="#222" font-family="Liberation Sans" word-spacing="0.55">Note: "All" refers to dissolved Cu ions</text>
<text x="275.50" y="446.50" font-size="7.1" fill="#222" font-family="Liberation Sans" word-spacing="3.05">after each of the reactions in this</text>
<text x="275.50" y="454.60" font-size="7.1" fill="#222" font-family="Liberation Sans">Figure.</text>
<text transform="translate(242.2,500.8) rotate(-90)" font-size="12.6" text-anchor="middle" fill="#1a1a1a" font-family="Liberation Sans">Dissolved Cu ions (mg/L)</text>
<polyline points="511.50,439.00 533.25,478.01 547.75,508.85 562.25,527.38 584.00,543.59 620.25,557.24 656.50,560.90" fill="none" stroke="#4ea6e0" stroke-width="1.95" stroke-linejoin="round"/>
<rect x="508.50" y="436.00" width="6.00" height="6.00" fill="#80bfea" stroke="#4ea6e0" stroke-width="0.7"/>
<rect x="530.25" y="475.01" width="6.00" height="6.00" fill="#80bfea" stroke="#4ea6e0" stroke-width="0.7"/>
<rect x="544.75" y="505.85" width="6.00" height="6.00" fill="#80bfea" stroke="#4ea6e0" stroke-width="0.7"/>
<rect x="559.25" y="524.38" width="6.00" height="6.00" fill="#80bfea" stroke="#4ea6e0" stroke-width="0.7"/>
<rect x="581.00" y="540.59" width="6.00" height="6.00" fill="#80bfea" stroke="#4ea6e0" stroke-width="0.7"/>
<rect x="617.25" y="554.24" width="6.00" height="6.00" fill="#80bfea" stroke="#4ea6e0" stroke-width="0.7"/>
<rect x="653.50" y="557.90" width="6.00" height="6.00" fill="#80bfea" stroke="#4ea6e0" stroke-width="0.7"/>
<polyline points="511.50,439.00 533.25,471.43 547.75,496.41 562.25,521.40 584.00,540.54 620.25,557.24 656.50,559.68" fill="none" stroke="#f5952e" stroke-width="1.95" stroke-linejoin="round"/>
<polygon points="511.50,435.55 514.95,441.40 508.05,441.40" fill="#f8c8a0" stroke="#f5952e" stroke-width="0.7"/>
<polygon points="533.25,467.98 536.70,473.83 529.80,473.83" fill="#f8c8a0" stroke="#f5952e" stroke-width="0.7"/>
<polygon points="547.75,492.96 551.20,498.81 544.30,498.81" fill="#f8c8a0" stroke="#f5952e" stroke-width="0.7"/>
<polygon points="562.25,517.95 565.70,523.80 558.80,523.80" fill="#f8c8a0" stroke="#f5952e" stroke-width="0.7"/>
<polygon points="584.00,537.09 587.45,542.94 580.55,542.94" fill="#f8c8a0" stroke="#f5952e" stroke-width="0.7"/>
<polygon points="620.25,553.79 623.70,559.64 616.80,559.64" fill="#f8c8a0" stroke="#f5952e" stroke-width="0.7"/>
<polygon points="656.50,556.23 659.95,562.08 653.05,562.08" fill="#f8c8a0" stroke="#f5952e" stroke-width="0.7"/>
<polyline points="511.50,439.00 533.25,489.34 547.75,522.14 562.25,556.02 584.00,560.90 620.25,560.90 656.50,560.90" fill="none" stroke="#a070e0" stroke-width="1.95" stroke-linejoin="round"/>
<polygon points="511.50,442.45 514.95,436.60 508.05,436.60" fill="#b9b3df" stroke="#a78ad8" stroke-width="0.7"/>
<polygon points="533.25,492.79 536.70,486.94 529.80,486.94" fill="#b9b3df" stroke="#a78ad8" stroke-width="0.7"/>
<polygon points="547.75,525.59 551.20,519.74 544.30,519.74" fill="#b9b3df" stroke="#a78ad8" stroke-width="0.7"/>
<polygon points="562.25,559.47 565.70,553.62 558.80,553.62" fill="#b9b3df" stroke="#a78ad8" stroke-width="0.7"/>
<polygon points="584.00,564.35 587.45,558.50 580.55,558.50" fill="#b9b3df" stroke="#a78ad8" stroke-width="0.7"/>
<polygon points="620.25,564.35 623.70,558.50 616.80,558.50" fill="#b9b3df" stroke="#a78ad8" stroke-width="0.7"/>
<polygon points="656.50,564.35 659.95,558.50 653.05,558.50" fill="#b9b3df" stroke="#a78ad8" stroke-width="0.7"/>
<polyline points="511.50,439.00 533.25,448.26 547.75,481.06 562.25,501.66 584.00,521.40 620.25,543.10 656.50,553.59" fill="none" stroke="#e85a5a" stroke-width="1.95" stroke-linejoin="round"/>
<circle cx="511.50" cy="439.00" r="3.00" fill="#f6b6b6" stroke="#e85a5a" stroke-width="0.7"/>
<circle cx="533.25" cy="448.26" r="3.00" fill="#f6b6b6" stroke="#e85a5a" stroke-width="0.7"/>
<circle cx="547.75" cy="481.06" r="3.00" fill="#f6b6b6" stroke="#e85a5a" stroke-width="0.7"/>
<circle cx="562.25" cy="501.66" r="3.00" fill="#f6b6b6" stroke="#e85a5a" stroke-width="0.7"/>
<circle cx="584.00" cy="521.40" r="3.00" fill="#f6b6b6" stroke="#e85a5a" stroke-width="0.7"/>
<circle cx="620.25" cy="543.10" r="3.00" fill="#f6b6b6" stroke="#e85a5a" stroke-width="0.7"/>
<circle cx="656.50" cy="553.59" r="3.00" fill="#f6b6b6" stroke="#e85a5a" stroke-width="0.7"/>
<polyline points="511.50,439.00 533.25,476.91 547.75,500.68 562.25,515.55 584.00,533.35 620.25,545.66 656.50,559.44" fill="none" stroke="#fdba1c" stroke-width="1.95" stroke-linejoin="round"/>
<polygon points="511.50,435.10 515.40,439.00 511.50,442.90 507.60,439.00" fill="#f8e49a" stroke="#f5c23a" stroke-width="0.7"/>
<polygon points="533.25,473.01 537.15,476.91 533.25,480.81 529.35,476.91" fill="#f8e49a" stroke="#f5c23a" stroke-width="0.7"/>
<polygon points="547.75,496.78 551.65,500.68 547.75,504.58 543.85,500.68" fill="#f8e49a" stroke="#f5c23a" stroke-width="0.7"/>
<polygon points="562.25,511.65 566.15,515.55 562.25,519.45 558.35,515.55" fill="#f8e49a" stroke="#f5c23a" stroke-width="0.7"/>
<polygon points="584.00,529.45 587.90,533.35 584.00,537.25 580.10,533.35" fill="#f8e49a" stroke="#f5c23a" stroke-width="0.7"/>
<polygon points="620.25,541.76 624.15,545.66 620.25,549.56 616.35,545.66" fill="#f8e49a" stroke="#f5c23a" stroke-width="0.7"/>
<polygon points="656.50,555.54 660.40,559.44 656.50,563.34 652.60,559.44" fill="#f8e49a" stroke="#f5c23a" stroke-width="0.7"/>
<rect x="493.00" y="426.80" width="182.20" height="146.20" fill="none" stroke="#1a1a1a" stroke-width="1.3"/>
<line x1="511.50" y1="573.00" x2="511.50" y2="569.80" stroke="#1a1a1a" stroke-width="1.1"/>
<line x1="547.75" y1="573.00" x2="547.75" y2="569.80" stroke="#1a1a1a" stroke-width="1.1"/>
<line x1="584.00" y1="573.00" x2="584.00" y2="569.80" stroke="#1a1a1a" stroke-width="1.1"/>
<line x1="620.25" y1="573.00" x2="620.25" y2="569.80" stroke="#1a1a1a" stroke-width="1.1"/>
<line x1="656.50" y1="573.00" x2="656.50" y2="569.80" stroke="#1a1a1a" stroke-width="1.1"/>
<line x1="529.62" y1="573.00" x2="529.62" y2="571.30" stroke="#1a1a1a" stroke-width="1.1"/>
<line x1="565.88" y1="573.00" x2="565.88" y2="571.30" stroke="#1a1a1a" stroke-width="1.1"/>
<line x1="602.12" y1="573.00" x2="602.12" y2="571.30" stroke="#1a1a1a" stroke-width="1.1"/>
<line x1="638.38" y1="573.00" x2="638.38" y2="571.30" stroke="#1a1a1a" stroke-width="1.1"/>
<line x1="493.00" y1="560.90" x2="496.20" y2="560.90" stroke="#1a1a1a" stroke-width="1.1"/>
<line x1="493.00" y1="536.52" x2="496.20" y2="536.52" stroke="#1a1a1a" stroke-width="1.1"/>
<line x1="493.00" y1="512.14" x2="496.20" y2="512.14" stroke="#1a1a1a" stroke-width="1.1"/>
<line x1="493.00" y1="487.76" x2="496.20" y2="487.76" stroke="#1a1a1a" stroke-width="1.1"/>
<line x1="493.00" y1="463.38" x2="496.20" y2="463.38" stroke="#1a1a1a" stroke-width="1.1"/>
<line x1="493.00" y1="439.00" x2="496.20" y2="439.00" stroke="#1a1a1a" stroke-width="1.1"/>
<line x1="493.00" y1="548.71" x2="494.70" y2="548.71" stroke="#1a1a1a" stroke-width="1.1"/>
<line x1="493.00" y1="524.33" x2="494.70" y2="524.33" stroke="#1a1a1a" stroke-width="1.1"/>
<line x1="493.00" y1="499.95" x2="494.70" y2="499.95" stroke="#1a1a1a" stroke-width="1.1"/>
<line x1="493.00" y1="475.57" x2="494.70" y2="475.57" stroke="#1a1a1a" stroke-width="1.1"/>
<line x1="493.00" y1="451.19" x2="494.70" y2="451.19" stroke="#1a1a1a" stroke-width="1.1"/>
<text x="489.60" y="565.00" font-size="11.4" text-anchor="end" fill="#1a1a1a" font-family="Liberation Sans">0.0</text>
<text x="489.60" y="540.62" font-size="11.4" text-anchor="end" fill="#1a1a1a" font-family="Liberation Sans">0.2</text>
<text x="489.60" y="516.24" font-size="11.4" text-anchor="end" fill="#1a1a1a" font-family="Liberation Sans">0.4</text>
<text x="489.60" y="491.86" font-size="11.4" text-anchor="end" fill="#1a1a1a" font-family="Liberation Sans">0.6</text>
<text x="489.60" y="467.48" font-size="11.4" text-anchor="end" fill="#1a1a1a" font-family="Liberation Sans">0.8</text>
<text x="489.60" y="443.10" font-size="11.4" text-anchor="end" fill="#1a1a1a" font-family="Liberation Sans">1.0</text>
<text x="511.50" y="586.20" font-size="11.4" text-anchor="middle" fill="#1a1a1a" font-family="Liberation Sans">0</text>
<text x="547.75" y="586.20" font-size="11.4" text-anchor="middle" fill="#1a1a1a" font-family="Liberation Sans">5</text>
<text x="584.00" y="586.20" font-size="11.4" text-anchor="middle" fill="#1a1a1a" font-family="Liberation Sans">10</text>
<text x="620.25" y="586.20" font-size="11.4" text-anchor="middle" fill="#1a1a1a" font-family="Liberation Sans">15</text>
<text x="656.50" y="586.20" font-size="11.4" text-anchor="middle" fill="#1a1a1a" font-family="Liberation Sans">20</text>
<text x="587.20" y="598.60" font-size="12.5" text-anchor="middle" fill="#1a1a1a" font-family="Liberation Sans">Time (min)</text>
<text transform="translate(470.2,496.0) rotate(-90)" font-size="12.5" text-anchor="middle" fill="#1a1a1a" font-family="Liberation Sans">Pollutants, C<tspan font-size="8.6" dy="3">t</tspan><tspan dy="-3">/C</tspan><tspan font-size="8.6" dy="3">0</tspan></text>
<line x1="558.40" y1="434.50" x2="571.20" y2="434.50" stroke="#4ea6e0" stroke-width="2.0"/>
<rect x="561.60" y="431.50" width="6.00" height="6.00" fill="#80bfea" stroke="#4ea6e0" stroke-width="0.7"/>
<text x="572.80" y="437.70" font-size="9.0" font-weight="bold" fill="#111" font-family="Liberation Sans">SMX: sulfamethoxazole</text>
<line x1="558.40" y1="446.00" x2="571.20" y2="446.00" stroke="#e85a5a" stroke-width="2.0"/>
<circle cx="564.60" cy="446.00" r="3.00" fill="#f6b6b6" stroke="#e85a5a" stroke-width="0.7"/>
<text x="572.80" y="449.20" font-size="9.0" font-weight="bold" fill="#111" font-family="Liberation Sans">IBP: ibuprofen</text>
<line x1="558.40" y1="457.20" x2="571.20" y2="457.20" stroke="#f5952e" stroke-width="2.0"/>
<polygon points="564.60,453.75 568.05,459.60 561.15,459.60" fill="#f8c8a0" stroke="#f5952e" stroke-width="0.7"/>
<text x="572.80" y="460.40" font-size="9.0" font-weight="bold" fill="#111" font-family="Liberation Sans">QNL: quinoline</text>
<line x1="558.40" y1="468.60" x2="571.20" y2="468.60" stroke="#a070e0" stroke-width="2.0"/>
<polygon points="564.60,472.05 568.05,466.20 561.15,466.20" fill="#b9b3df" stroke="#a78ad8" stroke-width="0.7"/>
<text x="572.80" y="471.80" font-size="9.0" font-weight="bold" fill="#111" font-family="Liberation Sans">CBZ: carbamazepine</text>
<line x1="558.40" y1="479.80" x2="571.20" y2="479.80" stroke="#fdba1c" stroke-width="2.0"/>
<polygon points="564.60,475.90 568.50,479.80 564.60,483.70 560.70,479.80" fill="#f8e49a" stroke="#f5c23a" stroke-width="0.7"/>
<text x="572.80" y="483.00" font-size="9.0" font-weight="bold" fill="#111" font-family="Liberation Sans">ATZ: atrazine</text>
</svg></body></html>
